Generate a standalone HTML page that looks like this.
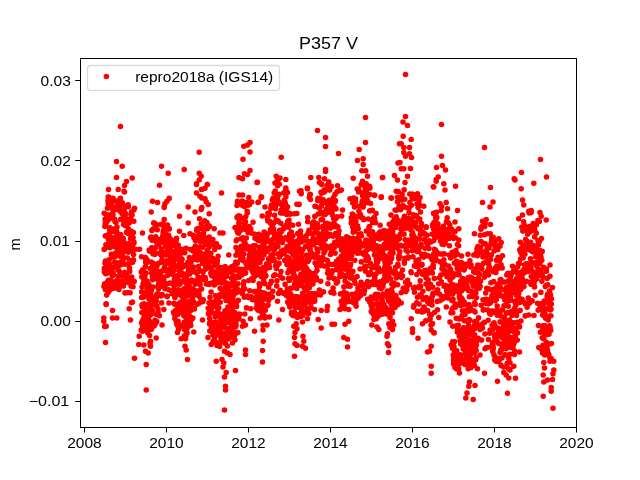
<!DOCTYPE html>
<html><head><meta charset="utf-8">
<style>
html,body{margin:0;padding:0;background:#fff;}
body{width:640px;height:480px;overflow:hidden;position:relative;font-family:"Liberation Sans",sans-serif;}
svg{position:absolute;left:0;top:0;will-change:transform;}
text{font-family:"Liberation Sans",sans-serif;fill:#000;}
</style></head><body>
<svg width="640" height="480" viewBox="0 0 640 480">
<rect width="640" height="480" fill="#fff"/>
<g fill="none" stroke="#f00" stroke-width="5.56" stroke-linecap="round">
<path d="M120.5 126.5h0M116.5 161.5h0M122.2 166.2h0M116.5 177.5h0M132.2 178.0h0M126.5 181.5h0M124.5 185.5h0M108.5 189.5h0M118.2 189.5h0M124.0 191.2h0M108.2 197.0h0M113.0 198.2h0M110.0 200.0h0M115.0 200.8h0M120.5 198.2h0M134.5 208.2h0M161.5 166.2h0M168.2 173.2h0M159.5 185.2h0M184.2 169.5h0M169.2 198.5h0M152.5 201.2h0M157.5 202.5h0M165.0 203.8h0M167.0 201.2h0M164.2 207.5h0M188.2 207.0h0M199.2 152.2h0M199.2 173.2h0M201.2 176.2h0M199.2 180.0h0M196.5 184.5h0M207.2 184.5h0M205.0 188.2h0M201.5 189.5h0M196.5 193.0h0M200.0 196.2h0M201.8 198.0h0M205.0 198.8h0M206.2 201.8h0M208.2 204.5h0M201.8 207.5h0M221.5 193.0h0M239.0 177.5h0M239.0 195.0h0M237.5 201.2h0M237.0 205.5h0M108.5 189.5h0M118.2 189.5h0M124.5 192.0h0M108.8 197.0h0M112.5 198.8h0M120.0 198.8h0M111.2 203.8h0M104.2 213.2h0M133.8 210.0h0M142.5 233.0h0M135.5 249.2h0M139.5 249.2h0M159.5 185.2h0M169.2 198.2h0M152.5 201.2h0M157.5 202.5h0M165.0 203.8h0M164.2 206.8h0M151.2 212.0h0M164.2 219.5h0M153.8 223.0h0M167.5 225.0h0M168.8 228.8h0M179.5 216.2h0M188.2 207.0h0M188.2 223.0h0M179.5 231.2h0M176.2 239.2h0M183.8 235.5h0M190.0 233.8h0M195.0 212.0h0M201.2 209.5h0M199.5 218.8h0M209.2 213.8h0M196.5 183.8h0M201.8 189.5h0M207.5 184.5h0M196.5 193.0h0M200.0 196.2h0M201.8 198.0h0M205.0 198.8h0M206.2 201.8h0M208.2 204.5h0M221.5 193.0h0M239.0 195.0h0M220.0 233.0h0M223.0 233.0h0M219.2 247.0h0M228.8 255.0h0M237.5 202.5h0M235.0 227.5h0M106.2 303.8h0M112.5 310.5h0M103.8 318.0h0M112.5 318.0h0M116.8 318.0h0M103.8 321.2h0M106.2 326.2h0M105.5 342.5h0M129.2 308.8h0M130.5 320.0h0M132.5 302.0h0M141.2 330.0h0M139.2 336.2h0M156.2 338.0h0M150.5 341.2h0M138.8 344.5h0M143.8 345.0h0M150.5 346.2h0M145.5 351.2h0M148.2 353.0h0M134.5 358.2h0M146.2 364.5h0M146.2 390.0h0M162.0 325.0h0M163.8 309.5h0M177.5 332.5h0M193.8 332.0h0M181.2 338.8h0M185.5 338.8h0M185.0 346.2h0M186.2 350.0h0M187.5 359.5h0M202.5 320.0h0M208.0 337.5h0M211.2 344.5h0M217.0 345.5h0M235.0 340.0h0M224.5 351.2h0M227.5 353.0h0M230.0 354.5h0M222.0 359.5h0M216.2 361.2h0M223.8 363.0h0M223.0 367.0h0M226.2 372.5h0M224.5 377.0h0M235.5 370.5h0M225.5 386.2h0M225.5 390.0h0M224.5 410.0h0M250.0 142.5h0M243.8 146.2h0M247.5 145.0h0M250.0 152.0h0M243.0 159.2h0M250.0 170.5h0M244.5 173.8h0M247.5 174.5h0M242.5 178.8h0M257.0 182.5h0M242.5 195.0h0M248.8 197.5h0M261.2 197.5h0M247.5 205.0h0M258.0 202.5h0M281.2 157.2h0M276.2 176.2h0M280.0 178.0h0M285.8 179.5h0M275.0 183.0h0M285.8 188.0h0M287.5 192.5h0M265.0 207.0h0M299.5 191.2h0M301.2 193.8h0M307.5 188.8h0M310.0 195.0h0M310.5 199.5h0M298.8 204.5h0M310.8 177.5h0M317.5 130.5h0M325.5 137.5h0M325.5 146.5h0M338.5 153.5h0M325.5 169.5h0M325.5 171.5h0M318.8 177.5h0M324.5 178.8h0M319.5 182.5h0M328.8 182.0h0M327.0 185.5h0M337.5 185.8h0M340.0 190.5h0M315.0 206.2h0M365.5 117.5h0M365.5 142.5h0M359.2 149.5h0M357.5 160.5h0M363.2 158.8h0M363.2 164.5h0M361.8 170.8h0M365.8 170.8h0M367.5 176.2h0M353.2 178.2h0M362.5 181.2h0M366.2 183.8h0M369.5 186.2h0M370.0 188.0h0M350.0 198.8h0M374.5 195.5h0M382.5 177.5h0M381.2 197.5h0M391.2 198.0h0M399.5 143.8h0M398.0 163.0h0M394.5 175.5h0M397.5 180.0h0M396.2 191.2h0M242.5 326.2h0M245.5 325.0h0M260.0 318.0h0M265.0 318.0h0M269.5 317.0h0M267.0 325.0h0M263.0 325.5h0M263.0 330.0h0M254.5 331.2h0M263.2 341.2h0M262.5 350.5h0M245.5 350.0h0M245.5 354.5h0M262.5 362.0h0M278.8 320.0h0M282.5 309.5h0M277.5 301.2h0M288.8 303.8h0M314.5 309.5h0M292.5 315.0h0M307.5 318.8h0M302.5 322.0h0M296.2 323.8h0M293.8 326.2h0M297.0 328.8h0M295.0 332.5h0M294.5 337.5h0M303.0 336.2h0M303.8 341.2h0M295.0 343.8h0M297.0 345.5h0M302.5 346.2h0M305.5 348.2h0M294.5 356.2h0M321.2 310.5h0M327.0 310.5h0M327.5 306.2h0M318.2 319.5h0M321.2 328.0h0M332.0 324.2h0M334.5 324.2h0M340.0 309.5h0M345.0 308.8h0M348.8 309.5h0M348.8 321.2h0M345.0 324.2h0M343.8 337.5h0M347.5 339.2h0M347.5 347.0h0M355.0 303.8h0M356.2 306.2h0M395.0 307.5h0M376.2 318.8h0M373.8 319.5h0M371.8 325.0h0M377.0 327.0h0M378.8 329.5h0M390.0 317.5h0M392.5 321.2h0M388.8 323.8h0M393.8 325.0h0M390.0 327.5h0M392.5 329.5h0M387.5 333.8h0M387.0 336.2h0M387.5 343.8h0M388.8 345.8h0M388.5 352.5h0M405.5 74.5h0M405.5 116.5h0M403.0 122.0h0M407.5 125.5h0M403.2 136.2h0M411.2 139.5h0M401.2 143.8h0M403.8 147.5h0M409.5 147.5h0M403.8 152.5h0M409.5 153.8h0M405.5 156.2h0M411.5 157.5h0M400.0 162.5h0M403.8 168.8h0M401.2 168.8h0M410.5 168.5h0M407.5 176.2h0M441.5 124.5h0M441.5 156.2h0M436.5 167.5h0M442.5 165.5h0M445.5 170.0h0M438.2 177.0h0M436.2 179.5h0M484.5 147.5h0M540.5 159.5h0M521.5 172.5h0M514.2 178.8h0M546.5 177.0h0M405.0 182.5h0M417.5 193.8h0M420.0 197.5h0M423.8 206.2h0M426.2 227.5h0M433.8 187.0h0M436.2 181.2h0M443.8 183.8h0M445.0 190.0h0M455.5 186.2h0M446.2 202.5h0M440.0 203.8h0M447.5 208.8h0M457.5 210.5h0M433.8 213.2h0M455.0 222.0h0M432.5 225.0h0M458.8 228.8h0M458.8 240.0h0M490.5 187.5h0M482.5 202.5h0M493.0 202.0h0M490.0 207.0h0M486.2 219.5h0M482.5 221.2h0M490.5 224.5h0M481.2 227.5h0M474.5 233.8h0M498.8 238.8h0M501.2 242.5h0M500.0 246.2h0M468.0 254.2h0M473.8 255.0h0M502.5 255.8h0M515.0 180.0h0M521.2 188.8h0M533.8 183.2h0M522.5 200.0h0M523.8 205.0h0M528.8 211.2h0M531.2 210.5h0M540.0 212.5h0M522.5 215.0h0M518.8 218.8h0M541.2 216.2h0M546.2 220.0h0M550.0 265.0h0M512.5 266.2h0M550.0 276.2h0M552.5 287.5h0M401.2 303.0h0M417.5 311.2h0M411.2 318.8h0M422.5 323.8h0M412.5 328.8h0M412.5 332.5h0M418.0 338.2h0M438.8 317.5h0M431.2 330.0h0M433.8 332.5h0M431.2 346.2h0M427.5 352.0h0M429.5 351.2h0M431.2 366.2h0M431.2 373.2h0M450.0 322.0h0M451.2 345.0h0M455.0 367.5h0M459.5 373.0h0M477.5 368.8h0M484.5 373.2h0M480.0 355.0h0M485.0 348.8h0M487.5 347.5h0M469.5 382.0h0M468.8 386.2h0M475.0 385.5h0M467.0 393.0h0M465.8 398.0h0M473.2 399.5h0M496.2 361.2h0M497.5 381.2h0M503.8 372.5h0M506.2 375.0h0M508.8 378.0h0M515.5 378.2h0"/>
<path d="M507.5 393.2h0M519.5 352.0h0M513.8 366.2h0M510.0 370.0h0M538.8 347.5h0M543.8 362.5h0M544.5 368.0h0M543.2 375.0h0M543.8 382.0h0M547.5 380.0h0M552.5 379.5h0M551.2 387.5h0M551.2 391.2h0M543.2 396.2h0M553.0 408.2h0M553.8 361.2h0M550.0 361.2h0M553.8 370.0h0M553.0 373.8h0M257.4 182.2h0M261.4 196.7h0M258.4 202.1h0M262.2 216.0h0M301.0 190.9h0M307.4 188.0h0M310.2 194.2h0M309.4 197.6h0M299.0 204.3h0M296.9 204.3h0M294.3 213.8h0M296.9 213.5h0M307.7 217.6h0M307.7 221.8h0M292.7 225.2h0M298.5 224.3h0M297.7 233.5h0M290.2 214.3h0M341.3 190.1h0M342.5 210.1h0M341.7 216.0h0M382.6 177.5h0M374.6 195.1h0M381.3 196.7h0M391.3 198.1h0M376.0 213.5h0M374.6 218.5h0M389.3 224.3h0M380.1 225.2h0M391.0 215.1h0M433.3 186.7h0M433.6 213.5h0M426.1 226.8h0M420.3 228.5h0M420.3 234.4h0M411.9 235.2h0M104.0 286.6h0M104.2 249.4h0M104.3 268.2h0M104.4 271.9h0M104.6 326.5h0M104.7 283.9h0M104.9 226.4h0M105.0 263.1h0M105.1 219.4h0M105.3 223.6h0M105.4 235.9h0M105.5 261.1h0M105.7 273.8h0M105.8 224.0h0M105.9 244.9h0M106.1 304.5h0M106.2 265.0h0M106.3 220.3h0M106.5 266.6h0M106.6 215.0h0M106.7 295.1h0M106.9 269.6h0M107.0 286.9h0M107.1 221.4h0M107.3 247.0h0M107.4 208.3h0M107.6 219.6h0M107.7 272.9h0M107.8 214.7h0M108.0 200.9h0M108.1 218.7h0M108.2 204.1h0M108.4 239.1h0M108.5 264.6h0M108.6 270.3h0M108.8 240.6h0M108.9 239.2h0M109.0 233.8h0M109.2 264.0h0M109.3 259.6h0M109.4 205.7h0M109.6 247.6h0M109.7 229.5h0M109.9 244.4h0M110.0 247.6h0M110.1 227.8h0M110.3 231.0h0M110.4 218.6h0M110.5 204.9h0M110.7 216.7h0M110.8 237.9h0M110.9 239.8h0M111.1 216.3h0M111.2 237.4h0M111.3 254.4h0M111.5 240.3h0M111.6 231.7h0M111.7 281.5h0M111.9 268.1h0M112.0 208.5h0M112.1 214.1h0M112.3 216.6h0M112.4 275.9h0M112.6 209.0h0M112.7 230.7h0M112.8 230.0h0M113.0 214.9h0M113.1 210.9h0M113.2 273.0h0M113.4 240.7h0M113.5 257.1h0M113.6 275.0h0M113.8 267.8h0M113.9 287.7h0M114.0 244.4h0M114.2 246.6h0M114.3 231.7h0M114.4 262.6h0M114.6 266.9h0M114.7 228.8h0M114.8 219.2h0M115.0 221.6h0M115.1 262.0h0M115.3 253.4h0M115.4 206.9h0M115.5 230.2h0M115.7 237.4h0M115.8 232.5h0M115.9 222.5h0M116.1 209.4h0M116.2 256.1h0M116.3 266.1h0M116.5 263.7h0M116.6 239.4h0M116.7 231.4h0M116.9 266.0h0M117.0 227.0h0M117.1 265.6h0M117.3 280.4h0M117.4 248.6h0M117.6 202.3h0M117.7 205.2h0M117.8 252.6h0M118.0 235.7h0M118.1 208.5h0M118.2 269.9h0M118.4 251.7h0M118.5 243.6h0M118.6 276.2h0M118.8 237.9h0M118.9 243.5h0M119.0 249.4h0M119.2 241.6h0M119.3 271.6h0M119.4 262.9h0M119.6 239.9h0M119.7 207.1h0M119.8 255.2h0M120.0 211.2h0M120.1 284.2h0M120.3 238.9h0M120.4 265.0h0M120.5 234.5h0M120.7 219.4h0M120.8 246.8h0M120.9 236.1h0M121.1 285.7h0M121.2 257.2h0M121.3 246.9h0M121.5 240.2h0M121.6 243.4h0M121.7 211.6h0M121.9 205.1h0M122.0 213.5h0M122.1 283.0h0M122.3 202.7h0M122.4 255.2h0M122.6 218.3h0M122.7 275.9h0M122.8 261.6h0M123.0 252.5h0M123.1 256.7h0M123.2 238.3h0M123.4 213.0h0M123.5 240.9h0M123.6 224.6h0M123.8 263.8h0M123.9 247.6h0M124.0 223.8h0M124.2 210.5h0M124.3 224.1h0M124.4 224.9h0M124.6 214.7h0M124.7 272.4h0M124.8 264.2h0M125.0 292.9h0M125.1 218.7h0M125.3 206.3h0M125.4 248.5h0M125.5 220.2h0M125.7 223.4h0M125.8 213.7h0M125.9 244.1h0M126.1 226.0h0M126.2 218.5h0M126.3 247.3h0M126.5 232.4h0M126.6 274.4h0M126.7 279.6h0M126.9 220.8h0M127.0 277.4h0M127.1 226.0h0M127.3 258.0h0M127.4 219.2h0M127.6 282.4h0M127.7 277.4h0M127.8 292.6h0M128.0 233.5h0M128.1 204.7h0M128.2 252.3h0M128.4 206.8h0M128.5 229.0h0M128.6 243.6h0M128.8 244.0h0M128.9 279.4h0M129.0 263.4h0M129.2 219.2h0M129.3 267.5h0M129.4 222.8h0M129.6 268.4h0M129.7 271.6h0M129.8 221.0h0M130.0 245.9h0M130.1 292.7h0M130.3 249.4h0M130.4 233.5h0M130.5 238.5h0M130.7 219.3h0M130.8 279.2h0M130.9 238.1h0M131.1 286.2h0M131.2 214.8h0M131.3 231.3h0M131.5 302.7h0M131.6 211.8h0M131.7 277.0h0M131.9 251.4h0M132.0 260.4h0M132.1 215.1h0M132.3 247.2h0M132.4 284.4h0M132.5 261.2h0M132.7 262.3h0M132.8 244.9h0M133.0 286.7h0M133.1 237.5h0M133.2 259.9h0M133.4 232.5h0M133.5 260.0h0M133.6 254.6h0M133.8 221.2h0M133.9 241.7h0M134.0 243.1h0M134.2 281.4h0M141.3 271.9h0M141.5 256.8h0M141.6 297.5h0M141.7 292.0h0M141.9 276.9h0M142.0 304.9h0M142.1 287.1h0M142.3 321.2h0M142.4 331.3h0M142.5 325.8h0M142.7 269.8h0M142.8 271.8h0M143.0 325.3h0M143.1 283.9h0M143.2 319.6h0M143.4 297.3h0M143.5 270.0h0M143.6 292.9h0M143.8 275.4h0M143.9 280.5h0M144.0 317.4h0M144.2 277.3h0M144.3 280.6h0M144.4 322.0h0M144.6 275.7h0M144.7 273.4h0M144.8 276.5h0M145.0 312.7h0M145.1 328.7h0M145.3 266.8h0M145.4 257.5h0M145.5 258.8h0M145.7 262.2h0M145.8 281.0h0M145.9 259.9h0M146.1 273.1h0M146.2 305.6h0M146.3 294.3h0M146.5 263.0h0M146.6 305.0h0M146.7 323.0h0M146.9 259.5h0M147.0 281.0h0M147.1 289.7h0M147.3 321.3h0M147.4 320.1h0M147.5 286.3h0M147.7 290.4h0M147.8 333.1h0M148.0 295.9h0M148.1 297.1h0M148.2 261.9h0M148.4 316.3h0M148.5 304.0h0M148.6 310.5h0M148.8 284.5h0M148.9 297.5h0M149.0 298.8h0M149.2 250.1h0M149.3 321.0h0M149.4 251.1h0M149.6 335.5h0M149.7 315.1h0M149.8 304.9h0M150.0 343.3h0M150.1 294.0h0M150.2 268.5h0M150.4 251.5h0M150.5 237.5h0M150.7 299.7h0M150.8 292.9h0M150.9 313.7h0M151.1 326.1h0M151.2 237.1h0M151.3 262.1h0M151.5 290.1h0M151.6 247.7h0M151.7 272.9h0M151.9 230.4h0M152.0 240.2h0M152.1 297.3h0M152.3 266.9h0M152.4 276.1h0M152.5 279.8h0M152.7 299.3h0M152.8 287.0h0M153.0 253.8h0M153.1 248.7h0M153.2 276.4h0M153.4 263.2h0M153.5 228.9h0M153.6 252.4h0M153.8 239.0h0M153.9 264.6h0M154.0 223.1h0M154.2 297.2h0M154.3 304.1h0M154.4 271.8h0M154.6 248.2h0M154.7 254.4h0M154.8 274.7h0M155.0 320.2h0M155.1 305.1h0M155.2 228.6h0M155.4 223.9h0M155.5 271.0h0M155.7 247.4h0M155.8 236.8h0M155.9 227.2h0M156.1 314.3h0M156.2 241.7h0M156.3 301.1h0M156.5 297.3h0M156.6 253.3h0M156.7 321.6h0M156.9 266.3h0M157.0 294.0h0M157.1 264.7h0M157.3 229.7h0M157.4 242.7h0M157.5 279.2h0"/>
<path d="M157.7 286.7h0M157.8 279.6h0M158.0 276.1h0M158.1 271.3h0M158.2 241.8h0M158.4 284.4h0M158.5 289.1h0M158.6 263.3h0M158.8 244.8h0M158.9 294.3h0M159.0 272.5h0M159.2 272.2h0M159.3 272.3h0M159.4 315.8h0M159.6 280.2h0M159.7 253.2h0M159.8 273.7h0M160.0 277.8h0M160.1 239.2h0M160.2 277.9h0M160.4 262.5h0M160.5 224.5h0M160.7 254.7h0M160.8 282.3h0M160.9 240.4h0M161.1 296.0h0M161.2 272.1h0M161.3 248.7h0M161.5 251.9h0M161.6 302.9h0M161.7 283.8h0M161.9 260.1h0M162.0 256.0h0M162.1 294.5h0M162.3 254.7h0M162.4 286.3h0M162.5 270.8h0M162.7 236.2h0M162.8 240.0h0M163.0 277.4h0M163.1 232.7h0M163.2 223.8h0M163.4 284.0h0M163.5 230.2h0M163.6 225.2h0M163.8 242.8h0M163.9 280.0h0M164.0 234.5h0M164.2 228.2h0M164.3 234.3h0M164.4 267.5h0M164.6 287.4h0M164.7 284.2h0M164.8 252.6h0M165.0 288.8h0M165.1 243.9h0M165.2 264.2h0M165.4 230.4h0M165.5 229.4h0M165.7 234.0h0M165.8 246.7h0M165.9 246.7h0M166.1 239.0h0M166.2 255.0h0M166.3 271.0h0M166.5 260.8h0M166.6 284.3h0M166.7 296.2h0M166.9 253.4h0M167.0 229.2h0M167.1 296.4h0M167.3 296.6h0M167.4 249.1h0M167.5 275.4h0M167.7 261.4h0M167.8 261.7h0M167.9 236.7h0M168.1 269.5h0M168.2 246.5h0M168.4 262.0h0M168.5 240.0h0M168.6 235.4h0M168.8 289.8h0M168.9 303.0h0M169.0 254.1h0M169.2 283.3h0M169.3 228.9h0M169.4 247.3h0M169.6 263.7h0M169.7 255.7h0M169.8 243.3h0M170.0 283.0h0M170.1 238.5h0M170.2 262.2h0M170.4 272.6h0M170.5 250.1h0M170.7 263.7h0M170.8 245.6h0M170.9 257.4h0M171.1 265.8h0M171.2 262.5h0M171.3 270.2h0M171.5 259.6h0M171.6 243.9h0M171.7 260.5h0M171.9 273.2h0M172.0 293.8h0M172.1 265.8h0M172.3 267.3h0M172.4 240.8h0M172.5 274.6h0M172.7 251.9h0M172.8 271.0h0M172.9 245.2h0M173.1 244.7h0M173.2 258.9h0M173.4 262.5h0M173.5 293.8h0M173.6 312.2h0M173.8 285.3h0M173.9 270.4h0M174.0 289.0h0M174.2 260.4h0M174.3 280.2h0M174.4 259.9h0M174.6 294.1h0M174.7 297.2h0M174.8 277.2h0M175.0 297.6h0M175.1 280.3h0M175.2 255.5h0M175.4 276.1h0M175.5 283.6h0M175.7 290.7h0M175.8 250.6h0M175.9 265.9h0M176.1 240.6h0M176.2 291.7h0M176.3 245.3h0M176.5 238.3h0M176.6 246.4h0M176.7 284.3h0M176.9 254.5h0M177.0 283.3h0M177.1 304.4h0M177.3 256.9h0M177.4 254.7h0M177.5 275.5h0M177.7 251.2h0M177.8 314.5h0M177.9 266.5h0M178.1 279.4h0M178.2 245.0h0M178.4 289.9h0M178.5 329.6h0M178.6 248.6h0M178.8 294.3h0M178.9 290.4h0M179.0 253.5h0M179.2 264.3h0M179.3 281.0h0M179.4 271.0h0M179.6 267.8h0M179.7 284.2h0M179.8 261.5h0M180.0 294.0h0M180.1 257.0h0M180.2 253.9h0M180.4 249.1h0M180.5 302.4h0M180.7 281.5h0M180.8 260.5h0M180.9 309.6h0M181.1 303.2h0M181.2 261.3h0M181.3 282.3h0M181.5 293.1h0M181.6 272.9h0M181.7 274.5h0M181.9 275.1h0M182.0 296.4h0M182.1 259.3h0M182.3 309.5h0M182.4 267.2h0M182.5 311.5h0M182.7 291.9h0M182.8 326.1h0M182.9 264.7h0M183.1 298.9h0M183.2 324.8h0M183.4 325.5h0M183.5 311.6h0M183.6 249.3h0M183.8 315.6h0M183.9 303.4h0M184.0 288.8h0M184.2 322.2h0M184.3 335.9h0M184.4 278.1h0M184.6 282.0h0M184.7 274.4h0M184.8 252.8h0M185.0 301.5h0M185.1 296.4h0M185.2 293.3h0M185.4 311.2h0M185.5 265.6h0M185.6 295.5h0M185.8 335.9h0M185.9 330.8h0M186.1 293.4h0M186.2 248.3h0M186.3 277.9h0M186.5 317.0h0M186.6 302.2h0M186.7 305.9h0M186.9 284.5h0M187.0 318.6h0M187.1 333.0h0M187.3 288.0h0M187.4 296.0h0M187.5 273.2h0M187.7 325.6h0M187.8 262.2h0M187.9 315.2h0M188.1 313.4h0M188.2 301.8h0M188.4 267.8h0M188.5 308.6h0M188.6 270.5h0M188.8 309.1h0M188.9 317.3h0M189.0 283.1h0M189.2 285.6h0M189.3 289.8h0M189.4 257.5h0M189.6 294.5h0M189.7 274.0h0M189.8 318.8h0M190.0 304.5h0M190.1 281.8h0M190.2 322.6h0M190.4 258.9h0M190.5 310.7h0M190.6 249.6h0M190.8 325.4h0M190.9 263.0h0M191.1 280.3h0M191.2 303.3h0M191.3 281.3h0M191.5 306.4h0M191.6 280.1h0M191.7 294.8h0M191.9 300.0h0M192.0 268.4h0M192.1 292.7h0M192.3 290.4h0M192.4 270.9h0M192.5 298.5h0M192.7 271.6h0M192.8 289.1h0M192.9 251.1h0M193.1 235.2h0M193.2 308.3h0M193.4 267.1h0M193.5 249.6h0M193.6 257.5h0M193.8 259.4h0M193.9 302.3h0M194.0 237.8h0M194.2 248.1h0M194.3 309.0h0M194.4 249.4h0M194.6 256.4h0M194.7 294.9h0M194.8 290.4h0M195.0 236.1h0M195.1 281.1h0M195.2 284.3h0M195.4 240.5h0M195.5 246.0h0M195.6 238.1h0M195.8 255.6h0M195.9 254.2h0M196.1 272.4h0M196.2 257.8h0M196.3 273.0h0M196.5 271.9h0M196.6 254.8h0M196.7 230.5h0M196.9 229.0h0M197.0 292.1h0M197.1 248.4h0M197.3 230.4h0M197.4 304.2h0M197.5 259.9h0M197.7 230.3h0M197.8 247.9h0M197.9 228.5h0M198.1 277.0h0M198.2 281.1h0M198.4 266.6h0M198.5 271.5h0M198.6 256.2h0M198.8 252.0h0M198.9 293.8h0M199.0 303.3h0M199.2 296.4h0M199.3 280.1h0M199.4 229.1h0M199.6 234.6h0M199.7 252.2h0M199.8 290.1h0M200.0 241.6h0M200.1 284.8h0M200.2 238.2h0M200.4 270.7h0M200.5 258.8h0M200.6 246.9h0M200.8 253.1h0M200.9 299.2h0M201.1 228.2h0M201.2 223.7h0M201.3 238.9h0M201.5 253.8h0M201.6 289.0h0M201.7 301.4h0M201.9 240.1h0M202.0 240.6h0M202.1 279.8h0M202.3 260.3h0M202.4 263.2h0M202.5 238.3h0M202.7 301.8h0M202.8 247.3h0M202.9 279.5h0M203.1 272.0h0M203.2 276.7h0M203.3 299.8h0M203.5 233.2h0M203.6 235.2h0M203.8 261.0h0M203.9 237.2h0M204.0 229.0h0M204.2 255.2h0M204.3 242.3h0M204.4 278.4h0M204.6 257.7h0M204.7 220.7h0M204.8 254.4h0M205.0 242.2h0M205.1 240.3h0M205.2 277.5h0M205.4 269.3h0M205.5 279.4h0M205.6 267.0h0M205.8 244.4h0M205.9 268.6h0M206.1 226.6h0M206.2 265.5h0M206.3 284.0h0M206.5 228.7h0M206.6 263.5h0M206.7 262.9h0M206.9 222.6h0M207.0 228.0h0M207.1 251.3h0M207.3 261.3h0M207.4 228.8h0M207.5 284.1h0M207.7 250.3h0M207.8 238.2h0M207.9 240.6h0M208.1 256.2h0M208.2 308.2h0M208.3 242.7h0M208.5 313.4h0M208.6 255.8h0M208.8 262.6h0M208.9 225.7h0M209.0 302.7h0M209.2 246.9h0M209.3 237.0h0M209.4 284.5h0M209.6 226.6h0M209.7 255.5h0M209.8 322.7h0M210.0 297.4h0M210.1 266.8h0M210.2 283.4h0M210.4 240.6h0M210.5 268.6h0M210.6 240.7h0M210.8 273.0h0M210.9 253.5h0M211.1 292.0h0M211.2 305.0h0M211.3 274.2h0M211.5 308.7h0M211.6 272.3h0"/>
<path d="M211.7 270.1h0M211.9 259.1h0M212.0 275.9h0M212.1 260.5h0M212.3 261.3h0M212.4 322.3h0M212.5 302.4h0M212.7 258.3h0M212.8 306.0h0M212.9 239.6h0M213.1 341.2h0M213.2 244.9h0M213.3 282.5h0M213.5 302.4h0M213.6 243.0h0M213.8 323.3h0M213.9 276.3h0M214.0 243.7h0M214.2 228.7h0M214.3 285.0h0M214.4 274.8h0M214.6 331.5h0M214.7 249.5h0M214.8 265.4h0M215.0 306.2h0M215.1 279.8h0M215.2 316.8h0M215.4 295.8h0M215.5 295.7h0M215.6 260.1h0M215.8 300.9h0M215.9 265.4h0M216.1 322.1h0M216.2 342.4h0M216.3 271.7h0M216.5 243.8h0M216.6 299.3h0M216.7 282.9h0M216.9 304.2h0M217.0 279.5h0M217.1 263.3h0M217.3 246.3h0M217.4 260.3h0M217.5 281.0h0M217.7 308.9h0M217.8 272.8h0M217.9 269.9h0M218.1 256.2h0M218.2 334.7h0M218.3 277.3h0M218.5 280.7h0M218.6 326.1h0M218.8 307.8h0M218.9 268.1h0M219.0 297.2h0M219.2 295.2h0M219.3 269.3h0M219.4 275.3h0M219.6 328.5h0M219.7 346.5h0M219.8 294.8h0M220.0 328.2h0M220.1 288.2h0M220.2 302.2h0M220.4 272.5h0M220.5 268.1h0M220.6 288.7h0M220.8 267.6h0M220.9 269.3h0M221.1 323.7h0M221.2 282.8h0M221.3 319.8h0M221.5 294.8h0M221.6 334.3h0M221.7 282.6h0M221.9 282.9h0M222.0 269.9h0M222.1 278.3h0M222.3 270.6h0M222.4 333.3h0M222.5 295.0h0M222.7 291.9h0M222.8 294.2h0M222.9 276.4h0M223.1 281.7h0M223.2 316.2h0M223.3 325.9h0M223.5 276.6h0M223.6 268.0h0M223.8 290.7h0M223.9 280.9h0M224.0 296.7h0M224.2 320.2h0M224.3 326.2h0M224.4 293.9h0M224.6 274.9h0M224.7 282.4h0M224.8 327.4h0M225.0 310.8h0M225.1 266.5h0M225.2 342.8h0M225.4 287.5h0M225.5 321.5h0M225.6 273.2h0M225.8 282.9h0M225.9 317.1h0M226.0 300.4h0M226.2 321.6h0M226.3 286.8h0M226.5 288.9h0M226.6 276.2h0M226.7 319.4h0M226.9 294.0h0M227.0 272.6h0M227.1 334.6h0M227.3 294.3h0M227.4 346.0h0M227.5 329.3h0M227.7 298.8h0M227.8 300.1h0M227.9 307.0h0M228.1 283.9h0M228.2 319.1h0M228.3 316.1h0M228.5 269.6h0M228.6 288.1h0M228.8 322.8h0M228.9 291.3h0M229.0 296.6h0M229.2 318.3h0M229.3 314.8h0M229.4 268.3h0M229.6 299.8h0M229.7 307.0h0M229.8 328.2h0M230.0 317.0h0M230.1 302.1h0M230.2 299.5h0M230.4 268.4h0M230.5 300.0h0M230.6 272.0h0M230.8 294.3h0M230.9 272.2h0M231.0 301.0h0M231.2 291.3h0M231.3 327.3h0M231.5 278.3h0M231.6 266.9h0M231.7 330.8h0M231.9 269.2h0M232.0 305.6h0M232.1 337.3h0M232.3 309.8h0M232.4 285.2h0M232.5 320.2h0M232.7 317.9h0M232.8 277.0h0M232.9 281.5h0M233.1 297.0h0M233.2 301.9h0M233.3 303.6h0M233.5 313.8h0M233.6 284.8h0M233.8 282.8h0M233.9 332.5h0M234.0 325.8h0M234.2 301.9h0M234.3 276.0h0M234.4 312.2h0M234.6 305.9h0M234.7 267.6h0M234.8 264.9h0M235.0 270.2h0M235.1 288.1h0M235.2 293.3h0M235.4 286.1h0M235.5 326.7h0M235.6 278.2h0M235.8 262.1h0M235.9 255.2h0M236.0 247.5h0M236.2 240.7h0M236.3 303.2h0M236.5 292.8h0M236.6 306.4h0M236.7 276.4h0M236.9 239.7h0M237.0 217.5h0M237.1 231.0h0M237.3 216.9h0M237.4 263.2h0M237.5 251.0h0M237.7 232.5h0M237.8 289.6h0M237.9 283.9h0M238.1 226.9h0M238.2 250.2h0M238.3 300.4h0M238.5 269.1h0M238.6 233.2h0M238.8 215.7h0M238.9 223.1h0M239.0 318.8h0M239.2 220.5h0M239.3 277.2h0M239.4 271.6h0M239.6 216.1h0M239.7 218.3h0M239.8 250.2h0M240.0 254.0h0M240.1 290.9h0M240.2 269.8h0M240.4 252.3h0M240.5 230.5h0M240.6 258.8h0M240.8 270.8h0M240.9 255.4h0M241.0 238.7h0M241.2 246.3h0M241.3 269.3h0M241.5 292.5h0M241.6 205.1h0M241.7 227.8h0M241.9 249.9h0M242.0 274.9h0M242.1 254.4h0M242.3 201.0h0M242.4 248.4h0M242.5 293.7h0M242.7 260.6h0M242.8 237.9h0M242.9 258.4h0M243.1 269.8h0M243.2 218.5h0M243.3 290.0h0M243.5 284.0h0M243.6 253.9h0M243.7 287.5h0M243.9 281.7h0M244.0 241.3h0M244.2 223.6h0M244.3 297.2h0M244.4 206.5h0M244.6 239.4h0M244.7 288.8h0M244.8 314.0h0M245.0 242.9h0M245.1 205.7h0M245.2 217.3h0M245.4 229.4h0M245.5 221.9h0M245.6 273.1h0M245.8 216.8h0M245.9 245.4h0M246.0 263.4h0M246.2 268.2h0M246.3 238.1h0M246.5 307.9h0M246.6 226.7h0M246.7 202.3h0M246.9 264.1h0M247.0 249.0h0M247.1 211.2h0M247.3 212.9h0M247.4 296.0h0M247.5 262.9h0M247.7 261.9h0M247.8 247.7h0M247.9 246.6h0M248.1 232.6h0M248.2 228.3h0M248.3 205.1h0M248.5 267.4h0M248.6 297.5h0M248.7 280.5h0M248.9 203.9h0M249.0 258.6h0M249.2 226.6h0M249.3 254.9h0M249.4 249.3h0M249.6 204.6h0M249.7 229.6h0M249.8 290.8h0M250.0 227.7h0M250.1 228.7h0M250.2 253.9h0M250.4 318.8h0M250.5 253.1h0M250.6 308.8h0M250.8 229.5h0M250.9 232.9h0M251.0 251.7h0M251.2 296.7h0M251.3 252.9h0M251.5 261.2h0M251.6 267.3h0M251.7 202.0h0M251.9 278.5h0M252.0 260.2h0M252.1 270.8h0M252.3 265.5h0M252.4 254.4h0M252.5 299.8h0M252.7 267.3h0M252.8 246.1h0M252.9 249.4h0M253.1 222.2h0M253.2 280.4h0M253.3 273.6h0M253.5 298.0h0M253.6 245.7h0M253.7 248.5h0M253.9 260.2h0M254.0 249.8h0M254.2 234.0h0M254.3 252.2h0M254.4 291.5h0M254.6 276.6h0M254.7 264.7h0M254.8 256.8h0M255.0 238.2h0M255.1 270.2h0M255.2 273.8h0M255.4 275.5h0M255.5 245.7h0M255.6 291.6h0M255.8 260.1h0M255.9 267.8h0M256.0 253.6h0M256.2 308.0h0M256.3 261.1h0M256.5 275.1h0M256.6 301.5h0M256.7 271.4h0M256.9 274.0h0M257.0 297.0h0M257.1 304.0h0M257.3 256.1h0M257.4 263.3h0M257.5 252.0h0M257.7 303.2h0M257.8 252.7h0M257.9 240.3h0M258.1 295.5h0M258.2 239.6h0M258.3 268.9h0M258.5 291.9h0M258.6 296.7h0M258.7 234.4h0M258.9 259.0h0M259.0 290.2h0M259.2 283.7h0M259.3 302.9h0M259.4 247.5h0M259.6 286.3h0M259.7 251.8h0M259.8 255.1h0M260.0 262.5h0M260.1 261.4h0M260.2 256.5h0M260.4 255.6h0M260.5 256.5h0M260.6 241.0h0M260.8 271.6h0M260.9 235.7h0M261.0 257.0h0M261.2 276.4h0M261.3 252.8h0M261.4 238.0h0M261.6 246.8h0M261.7 235.6h0M261.9 297.7h0M262.0 248.8h0M262.1 258.4h0M262.3 271.0h0M262.4 240.2h0M262.5 292.7h0M262.7 270.4h0M262.8 310.7h0M262.9 295.4h0M263.1 251.5h0M263.2 267.5h0M263.3 250.6h0M263.5 245.4h0M263.6 279.6h0M263.7 244.1h0M263.9 282.3h0M264.0 254.8h0M264.2 232.1h0M264.3 272.6h0M264.4 251.3h0M264.6 247.4h0M264.7 316.3h0M264.8 283.7h0M265.0 299.1h0M265.1 268.9h0M265.2 240.5h0M265.4 236.6h0M265.5 249.6h0M265.6 276.2h0"/>
<path d="M265.8 275.6h0M265.9 268.9h0M266.0 250.0h0M266.2 237.0h0M266.3 233.9h0M266.4 238.7h0M266.6 263.9h0M266.7 251.5h0M266.9 238.5h0M267.0 241.7h0M267.1 234.9h0M267.3 217.2h0M267.4 240.4h0M267.5 218.8h0M267.7 219.6h0M267.8 220.9h0M267.9 213.3h0M268.1 305.1h0M268.2 248.4h0M268.3 250.3h0M268.5 258.9h0M268.6 300.6h0M268.7 287.3h0M268.9 264.4h0M269.0 215.3h0M269.2 260.6h0M269.3 213.2h0M269.4 240.7h0M269.6 267.0h0M269.7 267.5h0M269.8 221.8h0M270.0 240.9h0M270.1 221.5h0M270.2 283.7h0M270.4 223.1h0M270.5 229.8h0M270.6 232.0h0M270.8 208.4h0M270.9 246.6h0M271.0 255.3h0M271.2 248.4h0M271.3 205.4h0M271.4 281.4h0M271.6 243.4h0M271.7 223.7h0M271.9 227.6h0M272.0 232.0h0M272.1 228.1h0M272.3 296.9h0M272.4 199.9h0M272.5 260.5h0M272.7 223.5h0M272.8 291.2h0M272.9 239.2h0M273.1 205.5h0M273.2 254.1h0M273.3 198.1h0M273.5 223.6h0M273.6 228.8h0M273.7 275.7h0M273.9 259.1h0M274.0 231.7h0M274.2 192.8h0M274.3 249.7h0M274.4 237.9h0M274.6 215.3h0M274.7 235.3h0M274.8 238.4h0M275.0 274.7h0M275.1 244.6h0M275.2 191.1h0M275.4 203.0h0M275.5 208.8h0M275.6 265.7h0M275.8 247.5h0M275.9 220.2h0M276.0 204.7h0M276.2 265.7h0M276.3 268.6h0M276.4 262.7h0M276.6 234.5h0M276.7 285.9h0M276.9 196.1h0M277.0 280.7h0M277.1 265.9h0M277.3 220.5h0M277.4 181.3h0M277.5 198.4h0M277.7 185.7h0M277.8 180.3h0M277.9 246.4h0M278.1 241.5h0M278.2 254.0h0M278.3 221.4h0M278.5 202.3h0M278.6 293.4h0M278.7 194.8h0M278.9 202.1h0M279.0 194.4h0M279.1 263.4h0M279.3 184.2h0M279.4 257.3h0M279.6 239.3h0M279.7 230.2h0M279.8 233.2h0M280.0 275.5h0M280.1 236.5h0M280.2 290.4h0M280.4 204.1h0M280.5 231.0h0M280.6 212.9h0M280.8 223.2h0M280.9 254.7h0M281.0 271.6h0M281.2 251.2h0M281.3 210.0h0M281.4 231.4h0M281.6 239.8h0M281.7 239.8h0M281.9 242.1h0M282.0 278.1h0M282.1 251.0h0M282.3 242.4h0M282.4 242.4h0M282.5 278.3h0M282.7 208.2h0M282.8 252.1h0M282.9 213.1h0M283.1 239.1h0M283.2 252.7h0M283.3 228.9h0M283.5 250.0h0M283.6 293.4h0M283.7 192.7h0M283.9 228.4h0M284.0 227.0h0M284.1 253.5h0M284.3 200.4h0M284.4 292.8h0M284.6 201.4h0M284.7 260.4h0M284.8 207.2h0M285.0 208.8h0M285.1 284.4h0M285.2 251.2h0M285.4 203.4h0M285.5 193.3h0M285.6 238.7h0M285.8 189.8h0M285.9 196.7h0M286.0 237.6h0M286.2 211.1h0M286.3 208.8h0M286.4 295.4h0M286.6 214.5h0M286.7 224.6h0M286.9 264.6h0M287.0 246.6h0M287.1 257.0h0M287.3 258.8h0M287.4 288.8h0M287.5 206.9h0M287.7 221.5h0M287.8 239.2h0M287.9 272.8h0M288.1 249.3h0M288.2 260.1h0M288.3 278.6h0M288.5 227.3h0M288.6 246.9h0M288.7 258.2h0M288.9 240.5h0M289.0 220.2h0M289.1 269.9h0M289.3 223.7h0M289.4 280.4h0M289.6 213.4h0M289.7 234.1h0M289.8 251.3h0M290.0 288.6h0M290.1 288.6h0M290.2 260.4h0M290.4 293.9h0M290.5 244.7h0M290.6 234.9h0M290.8 294.8h0M290.9 239.7h0M291.0 264.0h0M291.2 265.9h0M291.3 232.1h0M291.4 261.9h0M291.6 288.3h0M291.7 240.8h0M291.9 263.4h0M292.0 262.4h0M292.1 312.5h0M292.3 253.4h0M292.4 303.5h0M292.5 277.2h0M292.7 271.2h0M292.8 248.3h0M292.9 236.1h0M293.1 299.1h0M293.2 272.6h0M293.3 254.3h0M293.5 315.0h0M293.6 314.2h0M293.7 249.3h0M293.9 255.7h0M294.0 274.6h0M294.1 303.5h0M294.3 275.8h0M294.4 312.0h0M294.6 267.7h0M294.7 284.4h0M294.8 264.2h0M295.0 282.2h0M295.1 247.8h0M295.2 260.8h0M295.4 241.9h0M295.5 260.5h0M295.6 282.9h0M295.8 245.2h0M295.9 277.7h0M296.0 264.2h0M296.2 248.7h0M296.3 254.8h0M296.4 256.5h0M296.6 278.5h0M296.7 297.0h0M296.8 288.5h0M297.0 252.9h0M297.1 245.1h0M297.3 297.6h0M297.4 268.9h0M297.5 283.8h0M297.7 259.9h0M297.8 245.4h0M297.9 250.9h0M298.1 241.1h0M298.2 278.5h0M298.3 284.9h0M298.5 240.3h0M298.6 268.0h0M298.7 284.4h0M298.9 299.5h0M299.0 278.9h0M299.1 278.1h0M299.3 277.9h0M299.4 259.7h0M299.6 236.6h0M299.7 238.8h0M299.8 304.8h0M300.0 266.9h0M300.1 261.9h0M300.2 249.0h0M300.4 234.5h0M300.5 231.0h0M300.6 281.3h0M300.8 274.7h0M300.9 274.4h0M301.0 242.0h0M301.2 257.3h0M301.3 252.3h0M301.4 285.5h0M301.6 316.2h0M301.7 259.1h0M301.8 304.0h0M302.0 261.7h0M302.1 280.1h0M302.3 237.8h0M302.4 306.8h0M302.5 277.4h0M302.7 293.2h0M302.8 315.5h0M302.9 249.6h0M303.1 241.1h0M303.2 268.0h0M303.3 261.8h0M303.5 270.9h0M303.6 280.5h0M303.7 296.0h0M303.9 264.0h0M304.0 300.0h0M304.1 280.0h0M304.3 288.1h0M304.4 303.7h0M304.6 297.7h0M304.7 265.3h0M304.8 273.0h0M305.0 304.6h0M305.1 266.6h0M305.2 281.2h0M305.4 261.3h0M305.5 289.5h0M305.6 246.4h0M305.8 261.4h0M305.9 269.7h0M306.0 255.3h0M306.2 277.2h0M306.3 235.9h0M306.4 286.2h0M306.6 278.4h0M306.7 268.6h0M306.8 275.9h0M307.0 290.2h0M307.1 246.6h0M307.3 240.8h0M307.4 258.4h0M307.5 279.4h0M307.7 261.0h0M307.8 299.3h0M307.9 261.5h0M308.1 233.4h0M308.2 284.5h0M308.3 244.1h0M308.5 255.8h0M308.6 281.4h0M308.7 260.2h0M308.9 271.5h0M309.0 230.3h0M309.1 302.2h0M309.3 287.8h0M309.4 256.4h0M309.6 249.0h0M309.7 241.9h0M309.8 249.1h0M310.0 257.5h0M310.1 308.1h0M310.2 249.3h0M310.4 252.0h0M310.5 243.6h0M310.6 257.3h0M310.8 245.3h0M310.9 307.0h0M311.0 276.1h0M311.2 273.3h0M311.3 280.1h0M311.4 284.3h0M311.6 293.6h0M311.7 274.3h0M311.8 233.7h0M312.0 280.0h0M312.1 253.6h0M312.3 278.4h0M312.4 295.7h0M312.5 225.1h0M312.7 227.4h0M312.8 223.0h0M312.9 283.9h0M313.1 238.8h0M313.2 238.5h0M313.3 255.0h0M313.5 255.9h0M313.6 221.9h0M313.7 244.7h0M313.9 233.3h0M314.0 256.4h0M314.1 255.5h0M314.3 225.1h0M314.4 225.7h0M314.5 275.1h0M314.7 256.3h0M314.8 216.4h0M315.0 273.3h0M315.1 263.1h0M315.2 257.4h0M315.4 232.3h0M315.5 242.5h0M315.6 206.5h0M315.8 277.8h0M315.9 239.5h0M316.0 256.7h0M316.2 230.5h0M316.3 229.0h0M316.4 277.9h0M316.6 279.7h0M316.7 265.7h0M316.8 238.8h0M317.0 270.4h0M317.1 249.1h0M317.3 294.7h0M317.4 224.1h0M317.5 224.1h0M317.7 200.6h0M317.8 251.9h0M317.9 198.9h0M318.1 198.4h0M318.2 227.9h0M318.3 214.0h0M318.5 233.7h0M318.6 242.5h0M318.7 257.6h0M318.9 237.6h0M319.0 258.6h0M319.1 262.0h0M319.3 290.0h0M319.4 208.1h0M319.5 243.1h0M319.7 263.5h0"/>
<path d="M319.8 263.0h0M320.0 198.5h0M320.1 241.0h0M320.2 199.4h0M320.4 295.0h0M320.5 265.6h0M320.6 281.2h0M320.8 234.1h0M320.9 212.3h0M321.0 192.3h0M321.2 219.7h0M321.3 261.6h0M321.4 206.1h0M321.6 193.2h0M321.7 184.4h0M321.8 248.1h0M322.0 203.0h0M322.1 214.1h0M322.3 246.5h0M322.4 243.9h0M322.5 219.6h0M322.7 257.6h0M322.8 247.1h0M322.9 226.3h0M323.1 237.8h0M323.2 199.7h0M323.3 235.1h0M323.5 291.9h0M323.6 246.9h0M323.7 229.4h0M323.9 253.0h0M324.0 234.3h0M324.1 266.1h0M324.3 189.8h0M324.4 191.9h0M324.5 240.3h0M324.7 228.3h0M324.8 239.4h0M325.0 250.7h0M325.1 211.6h0M325.2 214.4h0M325.4 224.2h0M325.5 239.1h0M325.6 245.8h0M325.8 233.3h0M325.9 213.0h0M326.0 230.7h0M326.2 209.3h0M326.3 260.1h0M326.4 225.5h0M326.6 227.1h0M326.7 213.1h0M326.8 223.2h0M327.0 247.6h0M327.1 204.3h0M327.3 265.8h0M327.4 260.5h0M327.5 201.7h0M327.7 273.2h0M327.8 212.0h0M327.9 283.7h0M328.1 270.1h0M328.2 189.7h0M328.3 223.7h0M328.5 264.0h0M328.6 236.1h0M328.7 263.9h0M328.9 247.1h0M329.0 278.0h0M329.1 200.4h0M329.3 211.9h0M329.4 275.4h0M329.5 227.0h0M329.7 190.1h0M329.8 205.0h0M330.0 234.2h0M330.1 202.9h0M330.2 227.1h0M330.4 254.5h0M330.5 228.1h0M330.6 246.6h0M330.8 276.9h0M330.9 292.3h0M331.0 292.5h0M331.2 209.1h0M331.3 250.3h0M331.4 186.4h0M331.6 292.1h0M331.7 273.3h0M331.8 245.9h0M332.0 211.3h0M332.1 264.5h0M332.2 203.1h0M332.4 214.9h0M332.5 270.9h0M332.7 201.4h0M332.8 224.3h0M332.9 236.2h0M333.1 288.0h0M333.2 291.9h0M333.3 197.8h0M333.5 217.5h0M333.6 218.5h0M333.7 203.0h0M333.9 293.2h0M334.0 278.6h0M334.1 222.8h0M334.3 247.4h0M334.4 226.8h0M334.5 278.9h0M334.7 242.4h0M334.8 207.3h0M335.0 194.4h0M335.1 253.1h0M335.2 201.8h0M335.4 200.5h0M335.5 233.6h0M335.6 243.3h0M335.8 218.5h0M335.9 263.1h0M336.0 208.9h0M336.2 269.6h0M336.3 225.8h0M336.4 283.1h0M336.6 261.2h0M336.7 265.8h0M336.8 269.3h0M337.0 191.7h0M337.1 216.9h0M337.2 244.8h0M337.4 264.4h0M337.5 281.9h0M337.7 261.8h0M337.8 262.0h0M337.9 226.8h0M338.1 238.2h0M338.2 260.6h0M338.3 264.5h0M338.5 233.7h0M338.6 237.3h0M338.7 245.3h0M338.9 259.0h0M339.0 230.8h0M339.1 259.5h0M339.3 266.4h0M339.4 239.9h0M339.5 262.0h0M339.7 239.4h0M339.8 276.8h0M340.0 273.5h0M340.1 241.4h0M340.2 270.8h0M340.4 268.9h0M340.5 293.9h0M340.6 242.6h0M340.8 238.9h0M340.9 243.5h0M341.0 275.2h0M341.2 242.4h0M341.3 247.4h0M341.4 256.2h0M341.6 250.1h0M341.7 261.2h0M341.8 274.3h0M342.0 305.9h0M342.1 246.2h0M342.2 243.1h0M342.4 266.6h0M342.5 246.6h0M342.7 263.5h0M342.8 268.1h0M342.9 239.1h0M343.1 258.1h0M343.2 249.4h0M343.3 246.3h0M343.5 252.9h0M343.6 246.9h0M343.7 253.3h0M343.9 286.9h0M344.0 257.6h0M344.1 292.4h0M344.3 298.3h0M344.4 265.2h0M344.5 269.1h0M344.7 251.7h0M344.8 258.1h0M345.0 277.3h0M345.1 281.3h0M345.2 293.3h0M345.4 244.8h0M345.5 244.3h0M345.6 238.8h0M345.8 238.2h0M345.9 248.8h0M346.0 261.0h0M346.2 293.7h0M346.3 275.0h0M346.4 265.2h0M346.6 236.8h0M346.7 301.9h0M346.8 266.8h0M347.0 256.4h0M347.1 239.9h0M347.2 252.7h0M347.4 295.9h0M347.5 248.0h0M347.7 255.7h0M347.8 286.0h0M347.9 240.1h0M348.1 270.2h0M348.2 284.1h0M348.3 268.9h0M348.5 240.9h0M348.6 237.8h0M348.7 267.6h0M348.9 266.0h0M349.0 238.0h0M349.1 268.8h0M349.3 250.8h0M349.4 248.8h0M349.5 251.6h0M349.7 273.1h0M349.8 285.4h0M349.9 241.3h0M350.1 286.2h0M350.2 266.0h0M350.4 277.9h0M350.5 258.4h0M350.6 264.3h0M350.8 272.9h0M350.9 243.7h0M351.0 277.5h0M351.2 223.3h0M351.3 217.8h0M351.4 239.5h0M351.6 221.1h0M351.7 255.2h0M351.8 276.5h0M352.0 247.0h0M352.1 294.3h0M352.2 221.3h0M352.4 214.1h0M352.5 239.4h0M352.7 226.8h0M352.8 203.1h0M352.9 271.4h0M353.1 238.2h0M353.2 232.3h0M353.3 251.4h0M353.5 229.8h0M353.6 298.5h0M353.7 198.0h0M353.9 232.0h0M354.0 225.8h0M354.1 203.2h0M354.3 280.6h0M354.4 242.3h0M354.5 207.0h0M354.7 245.1h0M354.8 260.2h0M354.9 216.0h0M355.1 283.2h0M355.2 230.6h0M355.4 217.9h0M355.5 201.8h0M355.6 198.8h0M355.8 302.4h0M355.9 221.2h0M356.0 238.7h0M356.2 249.2h0M356.3 249.1h0M356.4 249.4h0M356.6 247.8h0M356.7 292.7h0M356.8 245.4h0M357.0 238.9h0M357.1 276.6h0M357.2 189.1h0M357.4 253.2h0M357.5 225.7h0M357.7 239.3h0M357.8 253.3h0M357.9 288.1h0M358.1 298.3h0M358.2 228.8h0M358.3 245.7h0M358.5 189.9h0M358.6 237.3h0M358.7 191.9h0M358.9 211.1h0M359.0 234.5h0M359.1 249.0h0M359.3 242.2h0M359.4 206.1h0M359.5 241.3h0M359.7 191.7h0M359.8 253.0h0M359.9 214.1h0M360.1 269.0h0M360.2 285.7h0M360.4 214.5h0M360.5 291.5h0M360.6 217.2h0M360.8 216.5h0M360.9 233.8h0M361.0 282.3h0M361.2 184.9h0M361.3 261.9h0M361.4 236.0h0M361.6 184.5h0M361.7 246.0h0M361.8 183.7h0M362.0 202.3h0M362.1 293.4h0M362.2 246.0h0M362.4 253.0h0M362.5 200.8h0M362.7 195.9h0M362.8 184.2h0M362.9 218.1h0M363.1 286.4h0M363.2 206.9h0M363.3 193.3h0M363.5 254.3h0M363.6 219.7h0M363.7 290.5h0M363.9 243.7h0M364.0 293.5h0M364.1 267.8h0M364.3 284.7h0M364.4 203.2h0M364.5 290.4h0M364.7 183.9h0M364.8 196.7h0M364.9 267.5h0M365.1 266.2h0M365.2 189.1h0M365.4 245.7h0M365.5 271.2h0M365.6 251.9h0M365.8 251.2h0M365.9 240.1h0M366.0 258.6h0M366.2 260.5h0M366.3 231.0h0M366.4 266.6h0M366.6 192.7h0M366.7 199.1h0M366.8 202.7h0M367.0 194.6h0M367.1 256.0h0M367.2 249.7h0M367.4 242.7h0M367.5 281.6h0M367.6 200.9h0M367.8 245.1h0M367.9 257.5h0M368.1 188.5h0M368.2 187.3h0M368.3 219.0h0M368.5 259.0h0M368.6 274.7h0M368.7 286.6h0M368.9 227.9h0M369.0 195.0h0M369.1 234.6h0M369.3 248.6h0M369.4 299.8h0M369.5 226.5h0M369.7 210.9h0M369.8 302.2h0M369.9 194.6h0M370.1 274.3h0M370.2 232.3h0M370.4 263.3h0M370.5 272.6h0M370.6 203.5h0M370.8 245.6h0M370.9 302.3h0M371.0 239.6h0M371.2 297.0h0M371.3 248.1h0M371.4 219.8h0M371.6 304.3h0M371.7 233.3h0M371.8 268.0h0M372.0 210.4h0M372.1 282.1h0M372.2 242.7h0M372.4 210.3h0M372.5 231.8h0M372.6 222.5h0M372.8 247.2h0M372.9 284.2h0M373.1 238.6h0M373.2 284.5h0M373.3 241.9h0M373.5 247.2h0M373.6 274.5h0M373.7 281.1h0"/>
<path d="M373.9 217.7h0M374.0 249.9h0M374.1 282.1h0M374.3 315.4h0M374.4 297.0h0M374.5 255.0h0M374.7 298.8h0M374.8 277.7h0M374.9 221.4h0M375.1 265.8h0M375.2 236.9h0M375.4 267.8h0M375.5 222.8h0M375.6 294.2h0M375.8 274.3h0M375.9 283.6h0M376.0 281.8h0M376.2 258.8h0M376.3 298.9h0M376.4 258.6h0M376.6 261.9h0M376.7 234.8h0M376.8 245.9h0M377.0 249.4h0M377.1 238.3h0M377.2 303.8h0M377.4 285.0h0M377.5 309.4h0M377.6 262.4h0M377.8 294.4h0M377.9 272.0h0M378.1 257.4h0M378.2 246.8h0M378.3 315.6h0M378.5 267.9h0M378.6 311.1h0M378.7 254.2h0M378.9 303.7h0M379.0 304.2h0M379.1 282.2h0M379.3 232.9h0M379.4 287.9h0M379.5 257.5h0M379.7 239.0h0M379.8 246.8h0M379.9 238.4h0M380.1 271.4h0M380.2 258.8h0M380.4 231.8h0M380.5 250.4h0M380.6 310.6h0M380.8 247.8h0M380.9 281.6h0M381.0 298.6h0M381.2 288.7h0M381.3 281.6h0M381.4 281.6h0M381.6 297.4h0M381.7 235.0h0M381.8 253.8h0M382.0 305.1h0M382.1 303.6h0M382.2 286.7h0M382.4 250.9h0M382.5 301.2h0M382.6 314.0h0M382.8 296.2h0M382.9 286.4h0M383.1 256.4h0M383.2 284.1h0M383.3 281.3h0M383.5 256.9h0M383.6 269.9h0M383.7 233.2h0M383.9 279.6h0M384.0 255.0h0M384.1 230.5h0M384.3 244.2h0M384.4 237.9h0M384.5 268.2h0M384.7 238.5h0M384.8 275.5h0M384.9 262.0h0M385.1 274.2h0M385.2 265.5h0M385.3 256.5h0M385.5 267.8h0M385.6 263.7h0M385.8 270.8h0M385.9 259.1h0M386.0 307.7h0M386.2 296.3h0M386.3 248.1h0M386.4 242.0h0M386.6 258.5h0M386.7 280.7h0M386.8 280.2h0M387.0 263.8h0M387.1 294.9h0M387.2 291.0h0M387.4 231.3h0M387.5 234.2h0M387.6 241.3h0M387.8 264.0h0M387.9 298.4h0M388.1 261.5h0M388.2 246.5h0M388.3 272.8h0M388.5 256.5h0M388.6 235.7h0M388.7 301.1h0M388.9 277.0h0M389.0 247.4h0M389.1 267.8h0M389.3 256.8h0M389.4 248.2h0M389.5 268.3h0M389.7 234.8h0M389.8 315.5h0M389.9 238.8h0M390.1 253.6h0M390.2 272.3h0M390.3 262.3h0M390.5 278.7h0M390.6 244.0h0M390.8 244.8h0M390.9 258.6h0M391.0 271.1h0M391.2 227.8h0M391.3 289.9h0M391.4 240.0h0M391.6 255.4h0M391.7 258.4h0M391.8 284.0h0M392.0 291.9h0M392.1 302.0h0M392.2 250.1h0M392.4 223.3h0M392.5 272.6h0M392.6 231.4h0M392.8 222.0h0M392.9 284.7h0M393.1 253.0h0M393.2 286.2h0M393.3 305.7h0M393.5 247.6h0M393.6 223.3h0M393.7 227.9h0M393.9 235.7h0M394.0 283.1h0M394.1 244.8h0M394.3 225.4h0M394.4 219.4h0M394.5 227.8h0M394.7 303.7h0M394.8 298.1h0M394.9 274.1h0M395.1 210.1h0M395.2 271.2h0M395.3 298.8h0M395.5 237.2h0M395.6 267.3h0M395.8 227.5h0M395.9 295.5h0M396.0 240.9h0M396.2 216.8h0M396.3 277.7h0M396.4 210.2h0M396.6 299.4h0M396.7 237.2h0M396.8 238.3h0M397.0 248.1h0M397.1 247.9h0M397.2 274.4h0M397.4 197.2h0M397.5 201.8h0M397.6 284.8h0M397.8 264.2h0M397.9 220.3h0M398.1 265.9h0M398.2 191.5h0M398.3 239.5h0M398.5 223.6h0M398.6 245.2h0M398.7 258.1h0M398.9 255.8h0M399.0 258.7h0M399.1 206.4h0M399.3 206.0h0M399.4 245.8h0M399.5 238.5h0M399.7 256.5h0M399.8 251.7h0M399.9 274.3h0M400.1 234.5h0M400.2 222.1h0M400.3 273.9h0M400.5 245.3h0M400.6 209.8h0M400.8 234.2h0M400.9 274.6h0M401.0 229.5h0M401.2 292.8h0M401.3 277.6h0M401.4 292.6h0M401.6 198.0h0M401.7 200.1h0M401.8 227.3h0M402.0 233.8h0M402.1 194.4h0M402.2 246.0h0M402.4 207.6h0M402.5 270.1h0M402.6 276.0h0M403.0 205.6h0M403.2 288.4h0M403.6 218.9h0M403.7 221.2h0M403.9 225.0h0M404.0 234.2h0M404.1 189.9h0M404.3 261.7h0M404.4 263.2h0M404.5 216.2h0M404.7 227.3h0M404.8 199.3h0M404.9 258.2h0M405.1 228.5h0M405.2 239.7h0M405.5 219.8h0M405.6 282.3h0M405.8 245.2h0M405.9 291.6h0M406.0 250.2h0M406.2 224.2h0M406.3 247.8h0M406.4 225.1h0M406.6 244.4h0M406.7 286.5h0M406.8 289.7h0M407.0 207.8h0M407.1 240.5h0M407.5 251.6h0M407.6 280.4h0M407.8 223.4h0M407.9 285.2h0M408.0 244.3h0M408.2 258.1h0M408.3 245.9h0M408.5 257.1h0M408.6 245.5h0M408.7 240.4h0M408.9 218.4h0M409.0 208.2h0M409.1 212.8h0M409.4 228.2h0M409.5 284.4h0M409.8 194.1h0M409.9 202.5h0M410.1 227.7h0M410.2 240.8h0M410.3 242.6h0M410.6 219.8h0M410.8 241.6h0M410.9 230.1h0M411.0 271.9h0M411.2 226.5h0M411.3 272.7h0M411.4 205.3h0M411.6 222.5h0M411.7 219.9h0M411.8 224.0h0M412.0 197.9h0M412.1 194.0h0M412.2 221.0h0M412.4 232.5h0M412.5 250.8h0M412.6 245.2h0M412.8 236.8h0M412.9 249.2h0M413.0 256.8h0M413.2 194.5h0M413.3 235.2h0M413.5 214.8h0M413.6 307.2h0M413.7 288.3h0M414.0 305.3h0M414.1 198.7h0M414.3 216.1h0M414.4 265.9h0M414.5 292.3h0M414.8 287.3h0M415.1 265.9h0M415.2 265.6h0M415.3 237.7h0M415.5 242.8h0M415.6 222.7h0M415.8 239.2h0M415.9 266.4h0M416.0 261.2h0M416.2 227.2h0M416.4 215.7h0M416.6 197.9h0M416.7 302.7h0M416.8 274.5h0M417.0 204.0h0M417.1 260.2h0M417.2 246.9h0M417.4 251.8h0M417.5 297.2h0M417.6 217.8h0M417.8 266.2h0M417.9 228.8h0M418.0 207.6h0M418.2 248.7h0M418.3 219.0h0M418.5 287.7h0M418.6 250.4h0M418.7 259.7h0M418.9 201.3h0M419.1 304.1h0M419.3 271.1h0M419.4 264.2h0M419.5 239.0h0M419.7 286.0h0M419.8 219.1h0M419.9 295.0h0M420.1 205.5h0M420.2 280.8h0M420.3 311.2h0M420.5 212.1h0M420.6 286.3h0M420.7 231.9h0M421.0 246.5h0M421.2 244.3h0M421.3 226.0h0M421.4 223.6h0M421.6 265.2h0M421.7 296.4h0M421.8 254.4h0M422.0 311.9h0M422.1 264.6h0M422.2 255.8h0M422.4 231.7h0M422.6 274.2h0M422.8 310.1h0M422.9 291.2h0M423.0 299.5h0M423.2 234.0h0M423.3 308.6h0M423.6 311.6h0M423.9 257.1h0M424.0 309.4h0M424.1 307.1h0M424.3 233.2h0M424.4 255.1h0M424.5 239.6h0M424.7 273.9h0M424.8 270.5h0M424.9 254.3h0M425.1 248.3h0M425.5 273.7h0M425.7 320.9h0M425.9 277.8h0M426.0 284.0h0M426.2 272.5h0M426.3 297.6h0M426.4 270.4h0M426.6 283.8h0M426.7 243.0h0M426.8 299.4h0M427.1 271.5h0M427.2 235.3h0M427.4 274.1h0M427.5 310.5h0M427.6 301.8h0M427.8 282.4h0M427.9 244.1h0M428.0 287.0h0M428.2 279.9h0M428.3 255.9h0M428.6 288.7h0M428.9 248.6h0M429.0 303.5h0M429.1 240.9h0M429.4 302.4h0M429.7 314.3h0M429.8 319.8h0M430.1 302.2h0M430.2 318.4h0M430.5 284.2h0M430.6 270.0h0M430.7 268.2h0M430.9 241.9h0M431.0 325.3h0M431.2 257.7h0M431.3 314.9h0M431.6 301.1h0M431.7 297.7h0M432.0 305.0h0"/>
<path d="M432.1 234.1h0M432.2 259.9h0M432.4 273.1h0M432.5 295.8h0M432.6 323.6h0M432.8 287.3h0M432.9 227.1h0M433.0 293.2h0M433.2 265.1h0M433.3 267.7h0M433.5 254.2h0M433.6 240.8h0M433.7 229.1h0M433.9 222.5h0M434.0 224.3h0M434.1 332.9h0M434.3 278.5h0M434.4 249.4h0M434.5 312.5h0M434.7 238.6h0M434.8 249.8h0M434.9 259.8h0M435.1 292.9h0M435.2 258.4h0M435.3 234.2h0M435.5 250.1h0M435.6 216.0h0M435.7 218.1h0M435.9 255.8h0M436.0 215.7h0M436.2 219.0h0M436.4 212.3h0M436.6 229.7h0M436.7 260.6h0M436.8 217.5h0M437.0 253.0h0M437.1 252.6h0M437.2 301.4h0M437.4 252.9h0M437.5 309.8h0M437.6 289.9h0M437.8 236.3h0M437.9 223.8h0M438.0 234.4h0M438.2 228.2h0M438.4 230.2h0M438.6 236.5h0M438.7 283.8h0M438.9 233.7h0M439.0 237.3h0M439.1 234.8h0M439.4 277.7h0M439.5 294.0h0M439.7 236.3h0M439.8 231.7h0M439.9 300.8h0M440.1 261.8h0M440.2 237.5h0M440.3 229.8h0M440.5 228.6h0M440.6 241.2h0M440.7 254.0h0M440.9 275.1h0M441.0 236.8h0M441.2 210.6h0M441.3 281.8h0M441.6 206.6h0M441.8 296.4h0M442.0 268.9h0M442.1 244.3h0M442.2 254.3h0M442.4 262.8h0M442.5 264.9h0M442.8 298.9h0M443.0 268.0h0M443.2 243.9h0M443.3 228.1h0M443.4 226.2h0M443.6 244.5h0M443.7 232.5h0M443.9 259.8h0M444.0 286.3h0M444.1 253.8h0M444.3 273.5h0M444.4 270.3h0M444.8 243.5h0M444.9 238.3h0M445.1 264.6h0M445.2 242.0h0M445.3 285.2h0M445.5 236.7h0M445.7 271.5h0M446.0 295.7h0M446.2 229.8h0M446.3 307.0h0M446.4 221.7h0M446.6 290.8h0M446.7 286.1h0M446.8 273.4h0M447.0 276.7h0M447.2 217.7h0M447.5 294.0h0M447.6 288.0h0M447.8 296.1h0M447.9 298.0h0M448.0 295.7h0M448.2 229.3h0M448.3 222.7h0M448.6 266.1h0M448.9 238.5h0M449.0 234.2h0M449.1 255.0h0M449.4 245.7h0M449.7 290.5h0M449.8 237.3h0M449.9 225.3h0M450.1 280.2h0M450.2 254.7h0M450.3 279.0h0M450.5 269.3h0M450.6 258.0h0M450.7 273.0h0M450.9 290.3h0M451.0 312.7h0M451.2 255.6h0M451.4 284.7h0M451.6 229.2h0M451.7 256.0h0M451.8 300.5h0M452.0 272.8h0M452.1 309.0h0M452.2 252.2h0M452.5 292.2h0M452.6 294.0h0M452.8 312.8h0M452.9 277.0h0M453.0 299.4h0M453.2 343.1h0M453.3 236.9h0M453.4 284.9h0M453.6 238.4h0M453.7 307.4h0M453.9 358.9h0M454.0 287.8h0M454.1 232.0h0M454.3 255.9h0M454.4 263.0h0M454.5 286.2h0M454.8 291.8h0M455.1 231.6h0M455.2 304.1h0M455.3 237.7h0M455.5 307.2h0M455.7 263.0h0M455.9 250.6h0M456.2 318.3h0M456.3 261.3h0M456.4 273.7h0M456.6 264.4h0M456.7 369.0h0M456.8 253.8h0M457.0 261.6h0M457.1 274.5h0M457.2 268.4h0M457.4 244.6h0M457.5 289.6h0M457.6 254.2h0M457.8 328.8h0M457.9 289.9h0M458.0 285.5h0M458.2 318.6h0M458.3 287.0h0M458.6 368.9h0M458.7 245.7h0M458.9 270.7h0M459.1 274.7h0M459.4 297.4h0M459.5 294.9h0M459.7 303.6h0M459.8 318.9h0M459.9 362.9h0M460.1 265.8h0M460.2 299.8h0M460.3 332.9h0M460.5 305.4h0M460.6 354.7h0M460.7 281.2h0M460.9 267.6h0M461.0 304.9h0M461.1 297.9h0M461.3 262.5h0M461.6 256.0h0M461.7 290.5h0M461.8 290.8h0M462.0 315.9h0M462.1 298.8h0M462.2 287.1h0M462.5 310.7h0M462.6 278.6h0M462.8 286.5h0M462.9 345.9h0M463.0 263.9h0M463.2 349.0h0M463.3 284.5h0M463.4 327.7h0M463.6 304.8h0M463.7 281.7h0M464.0 301.8h0M464.1 269.9h0M464.3 302.4h0M464.4 320.8h0M464.7 268.1h0M464.8 350.1h0M464.9 288.3h0M465.1 314.4h0M465.2 304.7h0M465.3 279.5h0M465.5 310.7h0M465.6 335.0h0M465.7 337.9h0M465.9 329.9h0M466.0 334.0h0M466.1 333.1h0M466.3 320.9h0M466.4 264.3h0M466.6 339.3h0M466.7 352.7h0M466.8 284.8h0M467.0 279.5h0M467.2 334.3h0M467.4 287.5h0M467.5 265.1h0M467.6 330.1h0M467.8 310.8h0M467.9 345.6h0M468.0 277.7h0M468.2 368.7h0M468.3 290.4h0M468.4 322.2h0M468.6 308.6h0M468.7 325.8h0M469.0 304.6h0M469.1 319.5h0M469.3 311.1h0M469.4 296.7h0M469.5 350.7h0M469.7 320.0h0M469.8 280.0h0M469.9 260.9h0M470.1 277.0h0M470.2 279.5h0M470.5 306.7h0M470.6 267.1h0M470.7 334.8h0M470.9 343.0h0M471.0 367.5h0M471.1 265.1h0M471.3 291.6h0M471.4 277.6h0M471.6 281.2h0M471.7 347.8h0M472.0 359.6h0M472.1 343.0h0M472.2 348.3h0M472.4 296.6h0M472.5 283.1h0M472.8 349.2h0M472.9 281.5h0M473.2 329.2h0M473.3 286.2h0M473.4 279.0h0M473.6 271.7h0M473.7 285.2h0M473.9 329.3h0M474.0 310.9h0M474.1 292.0h0M474.3 339.7h0M474.4 365.4h0M474.5 321.8h0M474.7 302.7h0M474.8 272.4h0M474.9 328.6h0M475.1 312.1h0M475.2 283.4h0M475.3 304.4h0M475.5 268.8h0M475.6 286.1h0M475.7 359.9h0M475.9 292.7h0M476.0 322.5h0M476.1 350.4h0M476.3 282.0h0M476.4 297.8h0M476.6 252.4h0M476.7 322.5h0M476.8 321.2h0M477.0 248.9h0M477.1 267.6h0M477.2 287.7h0M477.4 255.7h0M477.6 272.9h0M477.8 265.1h0M477.9 246.5h0M478.0 282.3h0M478.2 338.4h0M478.3 278.2h0M478.4 327.3h0M478.6 317.7h0M478.7 284.8h0M478.8 247.7h0M479.0 325.2h0M479.1 284.4h0M479.3 288.3h0M479.4 265.7h0M479.5 274.4h0M479.7 325.8h0M479.9 249.9h0M480.1 329.6h0M480.2 286.2h0M480.3 235.2h0M480.5 281.2h0M480.6 247.6h0M480.9 229.2h0M481.0 241.5h0M481.1 305.2h0M481.3 266.6h0M481.4 252.0h0M481.6 340.1h0M481.7 269.0h0M481.8 268.4h0M482.0 226.6h0M482.2 253.2h0M482.5 328.1h0M482.8 323.5h0M482.9 257.0h0M483.0 299.7h0M483.2 310.1h0M483.4 263.4h0M483.6 243.3h0M484.0 309.6h0M484.3 277.2h0M484.4 234.7h0M484.5 322.4h0M484.7 251.9h0M484.8 226.4h0M484.9 334.0h0M485.1 273.4h0M485.2 223.4h0M485.3 243.9h0M485.6 256.3h0M485.7 293.0h0M485.9 251.1h0M486.0 303.4h0M486.1 299.3h0M486.3 347.5h0M486.4 261.8h0M486.6 301.9h0M486.7 288.3h0M486.8 250.1h0M487.0 272.4h0M487.2 246.3h0M487.4 233.7h0M487.5 260.8h0M487.6 271.1h0M487.8 310.1h0M488.0 254.6h0M488.2 320.3h0M488.3 303.9h0M488.4 339.5h0M488.6 275.0h0M488.7 263.7h0M488.8 268.9h0M489.0 266.4h0M489.1 248.0h0M489.3 289.1h0M489.5 267.3h0M489.7 313.5h0M489.9 333.3h0M490.1 330.1h0M490.2 233.7h0M490.3 302.9h0M490.5 259.5h0M490.6 289.7h0M490.7 314.3h0M490.9 282.8h0M491.0 298.6h0M491.1 243.1h0M491.3 255.1h0M491.4 242.1h0M491.6 300.0h0M491.7 237.3h0M491.8 239.0h0M492.0 295.5h0M492.1 311.0h0M492.4 238.2h0M492.5 329.8h0M492.6 342.8h0M492.8 351.6h0M492.9 270.8h0M493.0 291.1h0"/>
<path d="M493.2 237.3h0M493.3 271.7h0M493.4 311.2h0M493.6 281.5h0M493.7 323.4h0M493.8 245.1h0M494.0 250.9h0M494.1 322.9h0M494.4 289.6h0M494.5 288.9h0M494.8 336.8h0M494.9 335.1h0M495.1 300.8h0M495.2 312.8h0M495.3 268.0h0M495.5 246.5h0M495.6 240.4h0M495.9 272.6h0M496.0 270.2h0M496.1 298.1h0M496.3 248.0h0M496.4 260.3h0M496.5 299.2h0M496.7 293.6h0M496.8 310.4h0M497.0 266.1h0M497.1 286.0h0M497.2 306.0h0M497.4 315.2h0M497.5 291.2h0M497.6 245.9h0M497.8 249.4h0M497.9 291.9h0M498.0 257.2h0M498.2 331.3h0M498.3 284.1h0M498.4 313.0h0M498.6 283.7h0M498.7 343.4h0M499.1 359.4h0M499.3 260.5h0M499.4 268.0h0M499.5 292.9h0M499.8 295.2h0M500.1 321.9h0M500.2 279.9h0M500.3 258.5h0M500.6 287.5h0M500.7 315.9h0M500.9 279.5h0M501.0 365.4h0M501.1 264.9h0M501.3 310.6h0M501.4 281.9h0M501.5 344.6h0M501.7 329.7h0M501.8 296.1h0M502.0 331.7h0M502.1 328.4h0M502.2 268.0h0M502.4 347.7h0M502.5 337.9h0M502.6 309.6h0M502.9 343.8h0M503.0 282.3h0M503.2 322.2h0M503.3 346.1h0M503.4 327.5h0M503.6 367.1h0M503.8 324.7h0M504.0 305.9h0M504.1 322.4h0M504.3 317.5h0M504.4 289.8h0M504.5 319.2h0M504.7 282.0h0M504.8 300.1h0M505.1 297.5h0M505.2 290.0h0M505.5 321.0h0M505.9 327.9h0M506.0 348.8h0M506.1 331.7h0M506.3 313.5h0M506.4 292.8h0M506.5 334.5h0M506.7 287.2h0M506.8 275.0h0M507.0 345.8h0M507.1 294.2h0M507.2 338.2h0M507.4 301.8h0M507.5 298.3h0M507.6 312.6h0M507.8 289.0h0M507.9 273.2h0M508.0 332.9h0M508.2 281.0h0M508.3 306.2h0M508.4 368.6h0M508.6 342.0h0M508.7 295.9h0M508.8 358.7h0M509.0 337.2h0M509.1 328.5h0M509.3 320.0h0M509.4 288.6h0M509.5 290.0h0M509.7 323.9h0M509.8 285.7h0M509.9 312.4h0M510.1 341.7h0M510.2 279.6h0M510.3 321.9h0M510.5 296.6h0M510.6 321.8h0M510.9 300.2h0M511.0 275.8h0M511.1 330.4h0M511.3 337.5h0M511.4 273.4h0M511.5 293.2h0M511.7 288.0h0M511.8 346.8h0M512.0 315.4h0M512.1 343.6h0M512.2 312.7h0M512.4 327.2h0M512.5 339.1h0M512.6 288.0h0M512.8 310.7h0M512.9 292.0h0M513.0 330.3h0M513.2 344.9h0M513.3 282.5h0M513.6 330.4h0M513.7 270.8h0M513.8 339.6h0M514.0 322.9h0M514.1 339.5h0M514.2 281.5h0M514.4 328.7h0M514.5 337.4h0M514.7 301.3h0M514.8 283.1h0M514.9 307.7h0M515.1 328.4h0M515.3 303.3h0M515.5 291.2h0M515.6 280.6h0M515.7 283.8h0M516.0 304.8h0M516.1 289.0h0M516.3 272.2h0M516.4 295.2h0M516.5 315.5h0M516.7 278.5h0M516.8 279.4h0M517.0 287.9h0M517.1 311.7h0M517.2 322.3h0M517.5 281.9h0M517.6 267.1h0M517.8 287.7h0M517.9 298.5h0M518.2 275.7h0M518.3 296.8h0M518.4 285.4h0M518.6 263.2h0M518.7 293.6h0M518.8 288.9h0M519.0 279.2h0M519.2 288.1h0M519.4 272.9h0M519.5 263.8h0M519.7 302.5h0M519.8 249.9h0M519.9 276.7h0M520.1 310.4h0M520.2 290.0h0M520.3 242.3h0M520.5 285.1h0M520.6 259.1h0M520.7 252.2h0M520.9 321.0h0M521.0 288.8h0M521.1 299.3h0M521.3 248.0h0M521.4 280.5h0M521.5 286.4h0M521.7 281.7h0M521.8 227.0h0M522.0 255.1h0M522.1 299.4h0M522.2 278.2h0M522.4 274.0h0M522.6 248.4h0M522.8 231.1h0M522.9 270.8h0M523.0 251.6h0M523.2 257.8h0M523.3 245.0h0M523.6 221.8h0M523.7 302.1h0M524.0 286.6h0M524.1 273.0h0M524.2 269.1h0M524.4 281.6h0M524.7 264.7h0M524.8 225.6h0M524.9 254.2h0M525.1 227.2h0M525.2 315.9h0M525.5 304.2h0M525.6 239.5h0M525.7 239.8h0M525.9 263.7h0M526.0 249.8h0M526.1 228.3h0M526.4 246.1h0M526.5 281.4h0M526.7 241.0h0M527.0 229.4h0M527.1 307.3h0M527.2 267.7h0M527.4 268.1h0M527.5 303.2h0M527.6 234.2h0M527.8 263.7h0M528.0 231.6h0M528.2 264.3h0M528.3 298.1h0M528.4 271.4h0M528.6 244.9h0M528.7 315.0h0M529.0 303.6h0M529.1 242.9h0M529.2 212.9h0M529.4 211.8h0M529.5 303.0h0M529.7 232.0h0M529.8 226.6h0M529.9 250.0h0M530.1 245.6h0M530.3 263.5h0M530.5 258.8h0M530.6 242.4h0M530.7 228.0h0M530.9 284.3h0M531.0 267.0h0M531.1 212.6h0M531.3 276.5h0M531.4 226.2h0M531.5 281.7h0M531.7 230.8h0M531.8 270.9h0M532.1 300.9h0M532.2 251.6h0M532.4 283.5h0M532.6 246.7h0M532.8 280.6h0M532.9 227.1h0M533.0 282.7h0M533.2 223.6h0M533.3 245.5h0M533.4 273.1h0M533.7 262.8h0M533.8 251.9h0M534.0 315.5h0M534.1 282.9h0M534.2 282.3h0M534.4 227.8h0M534.5 286.9h0M534.7 236.9h0M534.8 230.6h0M535.1 275.3h0M535.2 295.3h0M535.3 252.3h0M535.6 274.9h0M535.7 256.8h0M535.9 252.9h0M536.0 264.1h0M536.1 277.2h0M536.3 233.3h0M536.4 224.7h0M536.5 248.6h0M536.7 279.1h0M536.8 245.9h0M536.9 266.4h0M537.1 271.6h0M537.2 262.1h0M537.4 276.1h0M537.5 303.3h0M537.8 274.3h0M537.9 220.5h0M538.0 240.8h0M538.2 310.3h0M538.4 244.9h0M538.6 255.5h0M538.8 274.3h0M539.0 275.3h0M539.2 257.4h0M539.4 221.4h0M539.5 241.2h0M539.7 308.2h0M539.8 263.4h0M539.9 270.0h0M540.1 308.6h0M540.2 250.6h0M540.3 309.6h0M540.5 254.4h0M540.6 270.7h0M540.7 303.9h0M540.9 292.4h0M541.0 257.0h0M541.1 260.8h0M541.4 259.8h0M541.5 238.5h0M541.8 260.3h0M541.9 281.2h0M542.1 274.7h0M542.2 251.4h0M542.4 310.5h0M542.5 276.2h0M542.6 315.1h0M542.8 326.2h0M542.9 277.1h0M543.0 305.8h0M543.2 345.4h0M543.4 350.1h0M543.6 267.2h0M543.8 307.2h0M544.0 338.9h0M544.1 307.5h0M544.2 301.0h0M544.5 351.3h0M544.7 312.9h0M544.8 310.1h0M544.9 311.0h0M545.1 325.7h0M545.3 286.6h0M545.6 318.3h0M545.7 334.5h0M546.1 271.3h0M546.4 271.3h0M546.5 269.0h0M546.7 354.2h0M546.8 285.0h0M546.9 316.0h0M547.1 296.2h0M547.2 278.4h0M547.4 296.9h0M547.5 350.3h0M547.6 294.4h0M547.8 284.9h0M548.0 302.9h0M548.2 319.9h0M548.3 353.9h0M548.4 300.9h0M548.6 332.0h0M548.8 354.6h0M549.1 297.5h0M549.4 293.1h0M549.5 291.0h0M549.6 307.5h0M549.8 357.5h0M550.1 299.2h0M550.2 304.3h0M550.3 309.9h0M550.5 294.8h0M550.7 330.5h0M550.9 315.7h0M551.0 309.1h0M551.1 358.5h0M551.3 304.1h0M551.4 298.9h0M258.7 302.8h0M262.7 304.7h0M257.4 302.8h0M267.1 305.7h0M265.3 310.3h0M264.8 293.3h0M261.3 311.7h0M269.7 298.2h0M262.7 316.1h0M257.3 305.8h0M261.8 302.7h0M262.1 308.0h0M268.9 294.3h0M258.0 310.2h0M263.6 311.1h0M260.5 298.4h0M264.7 294.4h0M264.3 308.5h0M262.8 314.3h0M256.9 293.5h0M264.2 296.6h0M261.8 307.9h0M304.0 298.0h0M287.3 294.6h0"/>
<path d="M293.7 300.8h0M292.8 301.5h0M289.8 302.8h0M296.4 300.5h0M297.7 314.6h0M309.1 296.2h0M289.8 307.1h0M297.4 317.5h0M297.3 306.5h0M288.8 297.3h0M304.6 312.1h0M299.3 316.4h0M293.5 315.8h0M304.2 312.0h0M292.1 301.6h0M312.8 297.9h0M295.3 307.4h0M314.7 301.3h0M291.8 296.1h0M314.7 299.4h0M307.8 294.8h0M299.0 307.6h0M307.6 308.9h0M298.8 297.1h0M298.6 304.6h0M295.9 296.6h0M311.8 297.8h0M297.6 304.5h0M291.6 312.5h0M291.5 313.8h0M287.7 293.6h0M301.5 306.4h0M299.8 315.9h0M308.0 313.6h0M308.8 313.5h0M308.2 297.6h0M301.4 310.6h0M301.3 305.7h0M296.0 297.3h0M312.3 302.1h0M287.7 302.0h0M315.0 293.5h0M314.7 297.7h0M344.0 305.6h0M343.9 297.0h0M360.6 295.6h0M347.1 293.7h0M356.6 294.2h0M346.5 294.8h0M358.7 295.9h0M350.6 301.4h0M344.1 300.0h0M347.9 296.8h0M346.0 299.8h0M345.3 297.7h0M352.7 302.3h0M354.6 301.2h0M341.2 301.4h0M373.5 314.2h0M397.4 299.9h0M391.6 311.2h0M389.3 296.4h0M394.9 304.3h0M381.5 314.2h0M375.3 296.6h0M383.5 313.3h0M390.4 300.7h0M383.3 312.2h0M371.2 311.5h0M389.3 300.1h0M384.8 309.6h0M386.4 314.0h0M389.6 296.6h0M392.4 296.2h0M387.2 311.8h0M398.5 300.6h0M376.9 311.0h0M389.9 309.9h0M394.4 296.9h0M372.3 306.0h0M371.9 305.6h0M396.4 299.1h0M384.6 308.4h0M367.7 299.2h0M394.8 299.4h0M397.7 304.8h0M383.5 296.1h0M395.8 303.2h0M373.8 297.2h0M371.8 312.4h0M378.8 307.8h0M378.1 316.2h0M384.0 304.6h0M374.0 304.5h0M393.7 298.8h0M381.6 296.2h0M381.5 306.9h0M372.1 307.9h0M371.2 305.4h0M390.2 311.3h0M381.2 297.3h0M383.0 294.0h0M392.5 312.7h0M391.2 304.4h0M382.2 313.6h0M388.4 314.0h0M377.9 297.4h0M392.3 308.4h0M377.9 314.0h0M392.4 293.8h0M383.7 310.6h0M374.3 296.8h0M380.8 303.3h0M118.9 289.6h0M107.8 286.7h0M123.5 286.1h0M105.4 289.8h0M110.1 289.9h0M108.3 292.3h0M118.8 286.6h0M123.4 283.8h0M112.3 284.4h0M104.6 284.7h0M114.2 288.2h0M116.0 281.4h0M108.4 280.3h0M121.9 280.8h0M115.9 286.9h0M113.1 288.1h0M118.5 283.5h0M110.5 280.6h0M121.3 284.9h0M110.9 288.7h0M107.2 286.7h0M107.5 281.7h0M108.5 282.9h0M111.9 288.2h0M106.3 286.9h0M158.1 311.9h0M149.8 315.5h0M154.2 323.4h0M146.2 310.4h0M151.5 329.2h0M146.2 317.0h0M142.7 327.8h0M150.8 306.1h0M152.3 310.4h0M141.8 312.5h0M143.9 303.9h0M150.8 314.6h0M145.5 309.9h0M149.5 312.8h0M155.6 322.7h0M150.3 326.2h0M158.0 308.7h0M151.4 326.8h0M155.4 323.7h0M147.6 327.2h0M148.3 311.2h0M147.2 326.1h0M142.3 306.8h0M150.9 323.8h0M147.9 328.9h0M141.7 323.1h0M154.2 325.8h0M143.8 307.4h0M154.5 322.2h0M147.5 315.1h0M148.5 329.7h0M156.7 305.9h0M154.1 325.9h0M142.7 312.6h0M146.8 330.7h0M145.4 327.8h0M148.4 319.7h0M152.2 323.6h0M144.7 313.4h0M147.4 329.9h0M178.1 321.2h0M184.3 308.3h0M186.5 321.9h0M179.4 308.3h0M180.0 325.6h0M179.3 326.1h0M180.3 326.3h0M186.0 330.3h0M177.2 325.3h0M182.3 309.0h0M175.8 310.2h0M187.6 327.6h0M179.0 312.8h0M174.8 318.4h0M174.5 312.1h0M192.8 318.0h0M179.1 324.9h0M190.6 317.1h0M176.9 309.5h0M194.4 308.5h0M181.7 325.7h0M185.5 317.0h0M176.9 323.9h0M185.9 325.7h0M189.7 316.4h0M184.4 305.3h0M189.3 311.2h0M174.7 304.3h0M178.7 306.8h0M175.9 314.7h0M180.0 310.8h0M176.1 320.7h0M184.4 314.3h0M174.3 314.1h0M176.8 324.0h0M184.3 329.4h0M187.3 321.7h0M173.8 303.3h0M186.7 325.8h0M192.2 319.0h0M233.1 323.3h0M233.9 319.4h0M228.4 333.9h0M237.9 332.6h0M231.8 315.7h0M235.0 327.0h0M237.4 315.5h0M225.6 322.2h0M225.3 343.4h0M238.8 314.0h0M234.4 335.8h0M235.8 320.1h0M221.2 332.7h0M217.3 328.2h0M222.7 314.4h0M209.7 318.6h0M224.3 341.3h0M236.0 321.8h0M230.5 333.5h0M209.8 331.0h0M232.3 324.1h0M213.6 328.5h0M213.0 324.2h0M233.8 313.0h0M220.9 338.3h0M222.9 323.6h0M214.7 337.7h0M232.5 343.0h0M230.5 312.1h0M214.6 313.4h0M218.0 330.4h0M228.0 331.4h0M221.0 341.2h0M223.6 319.6h0M222.7 324.3h0M213.8 330.3h0M227.1 312.5h0M218.4 315.7h0M219.9 317.4h0M209.6 323.9h0M208.6 314.1h0M234.5 319.2h0M236.1 325.3h0M228.6 338.7h0M211.0 312.8h0M220.4 342.5h0M220.6 325.1h0M230.1 312.0h0M229.5 333.0h0M232.3 315.0h0M223.9 318.7h0M218.6 314.4h0M221.7 316.8h0M218.5 313.1h0M244.0 325.1h0M219.7 334.0h0M235.5 333.7h0M219.0 329.4h0M223.3 336.2h0M221.9 341.5h0M222.7 319.0h0M240.0 314.2h0M225.7 322.2h0M211.3 326.4h0M234.3 318.6h0M233.1 321.9h0M227.6 337.4h0M225.4 333.1h0M220.2 330.6h0M243.1 321.2h0M210.9 312.9h0M212.9 335.0h0M214.2 336.5h0M222.5 317.1h0M229.6 336.1h0M452.6 341.9h0M453.6 364.1h0M462.8 344.2h0M467.4 358.6h0M476.8 341.5h0M462.6 359.3h0M471.3 352.9h0M473.1 363.2h0M452.4 348.3h0M458.3 362.7h0M463.9 328.3h0M460.1 340.7h0M453.8 356.5h0M460.7 344.0h0M473.1 362.4h0M458.1 355.9h0M459.2 364.0h0M476.4 345.3h0M453.5 360.0h0M469.8 357.5h0M465.1 364.5h0M460.8 356.6h0M453.7 362.7h0M460.2 330.7h0M462.6 330.4h0M466.8 351.0h0M457.6 328.7h0M474.3 352.9h0M468.0 364.4h0M454.0 346.6h0M474.2 341.2h0M467.2 355.4h0M468.8 353.6h0M458.3 354.7h0M471.5 344.9h0M465.9 341.7h0M467.8 362.4h0M471.0 342.8h0M456.8 350.7h0M472.0 331.3h0M466.5 355.5h0M458.3 358.8h0M466.0 328.1h0M473.9 326.4h0M473.7 347.6h0M454.5 351.5h0M472.1 339.9h0M468.7 348.0h0M474.6 334.9h0M454.5 341.8h0M474.0 335.5h0M473.5 328.7h0M474.6 343.3h0M473.8 344.1h0M465.5 353.5h0M455.6 326.0h0M461.7 330.5h0M457.3 331.9h0M454.2 359.8h0M468.1 339.5h0M475.5 325.4h0M476.1 357.8h0M463.9 363.4h0M460.6 330.7h0M453.8 355.0h0M459.2 335.9h0M473.1 360.7h0M461.6 339.1h0M465.2 341.5h0M475.2 346.8h0M458.3 325.2h0M477.0 338.8h0M462.7 334.4h0M470.9 328.9h0M452.7 326.2h0M466.6 357.0h0M468.8 363.0h0M453.2 355.1h0M470.3 354.6h0M465.1 330.6h0M500.4 334.5h0M500.9 350.4h0M503.1 347.2h0M494.8 360.1h0M499.4 358.6h0M494.8 340.7h0M505.2 336.3h0M508.1 345.0h0M493.0 345.3h0M514.2 332.1h0M517.5 332.9h0M494.0 354.9h0M495.6 359.5h0M497.9 328.4h0M508.6 325.7h0M493.3 347.8h0M512.3 344.7h0M515.0 331.6h0M514.0 342.5h0M515.7 330.4h0M506.2 328.6h0M495.1 338.8h0M506.6 346.9h0M497.3 336.9h0M519.0 326.1h0M502.0 358.0h0M510.5 347.5h0"/>
<path d="M494.7 334.9h0M498.7 361.3h0M514.5 354.5h0M497.0 340.8h0M515.3 336.0h0M505.1 354.9h0M492.9 349.2h0M508.1 331.5h0M495.1 326.1h0M501.1 350.0h0M492.2 345.1h0M495.2 357.0h0M492.1 325.2h0M510.0 338.8h0M517.3 340.1h0M513.7 343.7h0M504.7 340.2h0M511.0 326.3h0M514.4 350.8h0M512.0 329.0h0M511.5 345.1h0M511.5 345.5h0M507.1 363.5h0M505.6 338.5h0M515.9 332.3h0M513.0 346.4h0M519.5 326.9h0M498.9 361.0h0M507.4 333.2h0M511.1 344.3h0M507.1 331.8h0M510.0 362.8h0M504.9 335.6h0M491.5 346.7h0M501.3 335.5h0M497.1 361.5h0M510.4 345.8h0M506.0 355.1h0M510.0 354.3h0M500.0 352.5h0M494.9 326.7h0M505.0 354.8h0M496.7 359.7h0M545.3 346.9h0M549.0 334.2h0M547.8 344.8h0M543.9 330.8h0M549.8 325.8h0M546.6 342.6h0M542.5 352.9h0M547.0 352.1h0M547.6 330.3h0M544.6 333.8h0M542.3 326.8h0M551.4 343.6h0M542.4 348.6h0M545.4 327.4h0M547.1 346.3h0M547.2 334.5h0M541.6 349.5h0M542.2 337.8h0M541.3 347.8h0M544.5 353.6h0M538.5 325.6h0M541.7 331.5h0M544.7 354.9h0M545.7 348.9h0M540.4 332.2h0M542.2 337.8h0M550.4 328.4h0M543.2 325.7h0M543.6 348.5h0M542.4 346.6h0"/>
</g>
<rect x="80.5" y="58.5" width="496" height="369" fill="none" stroke="#000" stroke-width="1"/>
<g stroke="#000" stroke-width="1">
<line x1="84.5" y1="428" x2="84.5" y2="432.5"/>
<line x1="166.5" y1="428" x2="166.5" y2="432.5"/>
<line x1="248.5" y1="428" x2="248.5" y2="432.5"/>
<line x1="330.5" y1="428" x2="330.5" y2="432.5"/>
<line x1="412.5" y1="428" x2="412.5" y2="432.5"/>
<line x1="494.5" y1="428" x2="494.5" y2="432.5"/>
<line x1="576.5" y1="428" x2="576.5" y2="432.5"/>
<line x1="75.2" y1="80.5" x2="80" y2="80.5"/>
<line x1="75.2" y1="160.5" x2="80" y2="160.5"/>
<line x1="75.2" y1="241.5" x2="80" y2="241.5"/>
<line x1="75.2" y1="321.5" x2="80" y2="321.5"/>
<line x1="75.2" y1="401.5" x2="80" y2="401.5"/>
</g>
<g font-size="14" text-anchor="middle">
<text x="84.4" y="448.2" textLength="34.4" lengthAdjust="spacingAndGlyphs">2008</text>
<text x="166.4" y="448.2" textLength="34.4" lengthAdjust="spacingAndGlyphs">2010</text>
<text x="248.4" y="448.2" textLength="34.4" lengthAdjust="spacingAndGlyphs">2012</text>
<text x="330.4" y="448.2" textLength="34.4" lengthAdjust="spacingAndGlyphs">2014</text>
<text x="412.4" y="448.2" textLength="34.4" lengthAdjust="spacingAndGlyphs">2016</text>
<text x="494.4" y="448.2" textLength="34.4" lengthAdjust="spacingAndGlyphs">2018</text>
<text x="576.4" y="448.2" textLength="34.4" lengthAdjust="spacingAndGlyphs">2020</text>
</g>
<g font-size="14">
<text x="40.6" y="86" textLength="30.2" lengthAdjust="spacingAndGlyphs">0.03</text>
<text x="40.6" y="166" textLength="30.2" lengthAdjust="spacingAndGlyphs">0.02</text>
<text x="40.1" y="246.2" textLength="29.6" lengthAdjust="spacingAndGlyphs">0.01</text>
<text x="40.6" y="326" textLength="30.2" lengthAdjust="spacingAndGlyphs">0.00</text>
<text x="28.7" y="406.2" textLength="40.6" lengthAdjust="spacingAndGlyphs">−0.01</text>
</g>
<text x="299" y="49.2" font-size="16.8" textLength="59" lengthAdjust="spacingAndGlyphs">P357 V</text>
<text transform="translate(20,244.3) rotate(-90)" font-size="14.6" text-anchor="middle">m</text>
<rect x="87.5" y="65.5" width="192" height="24.9" rx="3.2" fill="#fff" fill-opacity="0.8" stroke="#dadada" stroke-width="1.3"/>
<circle cx="106.4" cy="76.6" r="2.75" fill="#f00"/>
<text x="135.2" y="81.6" font-size="14" textLength="138" lengthAdjust="spacingAndGlyphs">repro2018a (IGS14)</text>
</svg>
</body></html>
